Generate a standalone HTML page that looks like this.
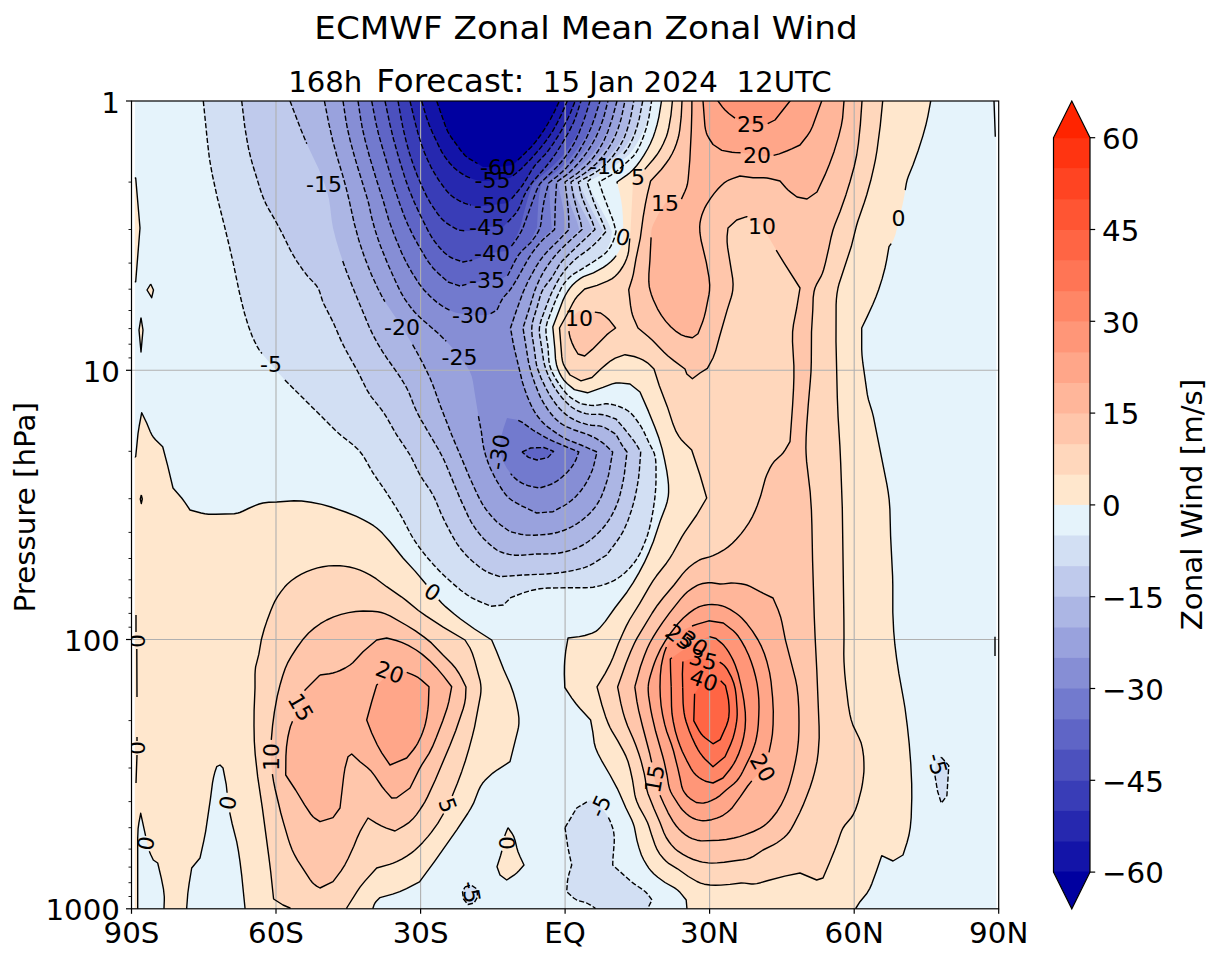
<!DOCTYPE html>
<html lang="en"><head><meta charset="utf-8"><title>ECMWF Zonal Mean Zonal Wind</title>
<style>html,body{margin:0;padding:0;background:#fff}svg{display:block}</style></head>
<body>
<svg width="1218" height="960" viewBox="0 0 1218 960" font-family="'DejaVu Sans','Liberation Sans',sans-serif">
<defs><clipPath id="cp"><rect x="134.8" y="101.0" width="861.8" height="807.8"/></clipPath></defs>
<rect width="1218" height="960" fill="#fff"/>
<g clip-path="url(#cp)">
<rect x="134.8" y="101.0" width="861.8" height="807.8" fill="#e5f3fb"/>
<g stroke="none">
<path d="M203.3 101 L207.4 141.2 L208.9 154.5 L211 167.9 L214.1 183.4 L218 200.5 L224.5 226.2 L230.4 250.6 L233.8 265.9 L239.1 291.1 L243.5 309.6 L246.6 320.4 L249.5 329.3 L252.2 336.3 L256.2 344.7 L259 349.6 L262.5 354.2 L277.7 372.1 L285.5 380.7 L335.3 430.3 L341.1 435.5 L353.3 445 L357.5 448.9 L360 451.7 L362.3 454.7 L364.4 457.9 L373 473 L385.7 491.4 L397 509.1 L401.9 517.3 L411.8 536.1 L414.8 541 L418.2 545.9 L421.8 550.7 L426.8 557 L432 563 L437.1 568.6 L446.5 577.9 L459.2 589 L466.7 594.6 L473.1 598.5 L478.4 601 L491 606.3 L503.4 605 L510.8 597.6 L524.9 592.3 L534.2 589.8 L539.9 588.7 L547.8 588 L571.4 587.7 L585.3 587.8 L593.2 587.2 L598.8 586.1 L605.9 584 L611 582 L615.9 579.5 L620.6 576.3 L626.4 571.4 L631.6 565.9 L635.2 561.5 L638.3 556.5 L641 551.3 L644.2 544 L647 536.7 L649.2 529.3 L651 521.8 L652.8 512.2 L654.3 502.6 L655.2 494.7 L655.8 486.9 L656 480.9 L656.1 467.2 L655.8 461.3 L655.3 457.5 L654.4 453.8 L652.9 450.2 L649.2 443.3 L643.7 431.4 L641 426.5 L634.6 417.5 L632.2 414.6 L629.6 412.1 L626.7 410 L622 407.7 L616.7 405.7 L610.9 404.2 L607 403.8 L605.2 403.8 L597.7 405.1 L594 405.5 L590.3 405.3 L581 403.8 L573 399.1 L570 397 L567.2 394.5 L563.5 390.2 L559 384 L554.8 377.3 L552.1 372.1 L550 366.6 L548.9 360.9 L548 347 L546.2 335.5 L545.9 331.7 L546 328 L546.3 326.1 L547.2 322.3 L548.5 318.5 L554 304.3 L556.8 297.6 L560.7 289.2 L563.5 284.4 L565.8 281.4 L568.3 278.6 L572.5 274.8 L590.9 263.4 L595.7 260 L600.2 256.2 L606 251 L609.5 243.7 L610.2 241.9 L611.1 238.3 L611.9 231.5 L609.3 225.2 L606.9 220.1 L593.8 195.8 L587 182 L601 175 L606.1 172.1 L609.4 169.9 L626.4 157 L629.1 154.4 L632.7 150 L636.9 143.5 L641.5 135 L644.6 127.9 L647.2 120.6 L649.2 113.5 L651.6 101 L651.6 90 L203.3 90Z" fill="#d2dff3"/>
<path d="M565 827.7 L576.7 808 L590 800 L595.9 803.6 L598.7 805.6 L601.3 808 L603.8 810.7 L606 813.6 L608 816.7 L609.6 819.8 L611 823 L613.2 829.8 L614.1 835.5 L614.3 841.3 L614 847.2 L612.9 859.1 L612.7 865 L624.3 875.5 L631.5 881.8 L634.5 884.1 L642.4 889.4 L645.4 891.7 L647.8 894.3 L652 900 L648 908 L648 920 L595 920 L595 908 L590.1 904.8 L586.7 903 L585.1 902.4 L578.3 900.7 L576.7 900 L573.6 898 L566.7 891.7 L567.4 881.9 L568 878 L568.9 874.3 L571.7 865 L568 848 L565.3 829.5Z" fill="#d2dff3"/>
<path d="M941.3 757.2 L948.8 765.6 L946.9 795.7 L941.3 803.2 L937.5 791 L934.7 774 L936 762Z" fill="#d2dff3"/>
<path d="M465 887 L471 885 L477 889 L477.5 897 L474 903 L468 904.5 L463.5 899 L462.5 892Z" fill="#d2dff3"/>
<path d="M241.7 101 L244.7 126.1 L246.9 139.6 L248.7 149.3 L250.5 156.9 L252.6 164.6 L260.8 191.1 L263.5 198.4 L265.8 203.7 L268.4 208.6 L274.1 218.4 L280.4 230 L283.8 236.7 L289.5 248.4 L292.1 253.4 L296.9 261.3 L303.3 270.6 L307.9 276.5 L315.9 284.9 L318 288 L319.5 291.3 L322.3 300.3 L323.7 303.7 L333 322 L341.7 342 L346 350.4 L358 372 L366.9 389.9 L371.1 396.6 L380.7 408.6 L384.1 413.3 L387.1 418.2 L396.7 435 L406.1 448.8 L410 455 L412.6 459.9 L417.4 470.1 L420 475 L423.2 480.1 L429.9 489.9 L433 495 L435.6 500.4 L440.9 513.2 L445.7 523.4 L451.9 535.1 L456.7 543.3 L461.2 549.5 L466.2 555.2 L471.6 560.5 L478.8 566.5 L483.5 569.8 L488.3 572.5 L491.6 573.8 L500 576.7 L523 575 L544.7 574.1 L561.3 572.5 L572.2 570.7 L579.6 569 L585 567.4 L590.2 565.1 L595.2 562.3 L606.7 555 L615.8 542.8 L621.1 535 L624.7 528.3 L628.3 519.5 L631.9 508.6 L634 501.2 L635.4 495.4 L638 481.7 L639.2 471.8 L640.7 452 L636.7 445 L633.6 440.4 L625.5 430.3 L616 419 L606.8 415.7 L603 414.7 L599.2 414.3 L593.3 414.4 L589.4 414.3 L584.1 413.1 L579.1 411.4 L574.4 409 L570 405.8 L566 402 L561 396.6 L556.5 390.5 L551.6 382.3 L548.3 375.5 L545.6 368.4 L544.5 364.7 L543.3 358.9 L541.6 347 L539.7 335.6 L539.3 329.9 L539.6 326.1 L541 320.6 L548.4 300.6 L551.3 293.5 L553.9 288.3 L557.5 281.4 L560.5 276.3 L565 270 L570.1 264.2 L577.1 257.4 L586.3 250.3 L591.7 245.3 L596.6 240 L603.1 231.5 L599.2 223.6 L592.6 211.5 L588.1 202.8 L583.9 194 L578.5 182 L601.3 166 L615.6 157.1 L619.9 153.7 L623.6 149.6 L626.8 145 L629.8 140.1 L632.4 135.1 L634.8 129.8 L637.4 122.5 L639.1 117.2 L642.7 101 L642.7 90 L241.7 90Z" fill="#bfcaec"/>
<path d="M290 101 L297.3 120.3 L305.2 140.2 L308.4 147.3 L318.5 168.4 L324.7 184.3 L327 191.4 L328.9 198.8 L330.1 206.6 L331.7 220.3 L333 228 L335.9 239.5 L339.3 250.8 L344.3 265.8 L350.8 282.5 L368.2 324.5 L373 335 L377.6 343.4 L382.5 351.6 L387.8 359.6 L394.5 368.9 L398.8 375.1 L402.9 381.5 L406.7 388 L409.2 393.3 L414.3 406.3 L417.6 413.4 L421.2 420.1 L438.6 449.7 L443 458 L446.3 465.2 L452.2 479.9 L461.4 501.5 L468.5 516.9 L471.1 521.8 L473 525 L478.7 533 L483.9 539 L490.8 545.5 L493.7 547.8 L496.8 550 L500 551.7 L505.4 553.6 L513 555 L518.9 555.4 L522.8 555.2 L536.7 554 L554.3 553.7 L560 553 L567.3 551.3 L572.7 549.6 L579.7 546.7 L584.6 544.1 L590.8 539.8 L596.5 534.8 L601.8 529.4 L606.5 523.5 L610.7 517 L615.2 508.5 L618 501.6 L620.1 494.4 L622.2 485.3 L624.1 475.8 L627 452 L622 445.2 L616 434.4 L608 429.3 L604.7 427.5 L603 426.8 L599.2 425.9 L591.4 425.2 L587.5 424.6 L579.9 422.3 L574.4 420 L569.5 417.1 L566.4 414.9 L563.5 412.5 L559.5 408.5 L555.8 404 L550.3 396.1 L546.4 389.3 L541.5 378.9 L538.1 370.2 L536.5 364.7 L535.5 358.8 L534 347 L532.1 335.6 L531.7 331.8 L531.7 328 L532.1 324.2 L533 320.5 L537 307.5 L540 296.8 L541.9 291.6 L543.7 288.3 L545.9 285.2 L552 277.5 L558.8 265.7 L562.2 261 L580.5 241.4 L592.2 229.5 L588.8 221.8 L582.3 209.8 L576.2 197.6 L574.1 192.3 L570.9 182 L586.7 174.1 L591.8 171.1 L594.9 168.9 L601 164.1 L605.2 160.1 L609.3 156 L614.3 150.1 L617.7 145.4 L620.8 140.5 L623.6 135.3 L625.9 129.9 L628.6 122.6 L630.2 117.2 L633.8 101 L633.8 90 L290 90Z" fill="#acb6e4"/>
<path d="M324.4 101 L328.8 123.4 L332.3 138.6 L336.8 155.8 L342.7 175.4 L345.8 186.7 L349.6 202.1 L353.8 221.4 L357 233.9 L361 246.9 L365.6 260 L370.6 272.8 L376.2 285.3 L381.6 295.8 L385.5 302.5 L400.7 325.1 L411.6 343 L419.1 356.3 L426.8 371.3 L430 378 L432.2 383.3 L441.4 408.7 L448.6 427 L455.3 443.5 L471.4 481.5 L478.5 496.9 L482 503.4 L485.2 508.2 L488.7 513 L492.6 517.5 L495.3 520.3 L498.1 522.9 L501 525.2 L510 531.7 L522.4 534.5 L526 535 L532 535.3 L540 535 L547.4 534.3 L554.7 533.1 L560 531.7 L565.2 529.8 L572.1 526.6 L578.5 522.8 L583.1 519.3 L587.6 515.4 L591.8 511.2 L595.6 506.6 L598.7 501.7 L601.4 496.5 L604.2 489.2 L607.3 479.9 L609.1 472.6 L612.7 452 L604.5 444.2 L601.4 441.9 L596.4 438.7 L592.9 436.9 L587.5 434.4 L583.8 433 L576.2 430.7 L569.2 427.9 L564.1 425.4 L561 423.5 L556.5 419.8 L552.5 415.5 L547.7 409.4 L544.5 404.5 L540.7 397.8 L537.7 391 L533.8 380.6 L531 371.9 L529.1 364.7 L528 358.8 L523 328 L529.6 307.5 L534.4 291.7 L537.9 283 L543.1 272.9 L549 263.4 L552.2 258.8 L556.7 253 L564.6 244.2 L579.2 229.5 L577.1 221.8 L572.3 209.8 L567.8 197.5 L566.2 192.3 L563.5 182 L578.6 173.2 L583.4 170 L588 166.5 L593.8 161.4 L598 157.4 L601.8 153.1 L605.5 148.5 L608.9 143.8 L611.9 138.8 L614.7 133.6 L617.9 126.4 L619.9 120.9 L621 117.4 L624.9 101 L624.9 90 L324.4 90Z" fill="#99a2dd"/>
<path d="M343 101 L346.4 123.4 L347.9 130.9 L349.7 138.7 L355.3 159.4 L367.3 198.6 L369.1 205.7 L371.2 216 L374.1 226.8 L378.8 241.2 L383.6 253.9 L389.6 268.5 L397.7 286 L401 292.7 L403.8 297.5 L407.9 303.7 L412.5 309.7 L416.3 314 L420.6 318.1 L437.5 332.7 L442.8 337.7 L448.2 343.3 L454.7 350.6 L463.1 361.4 L466.7 366.2 L469.7 371.3 L471.8 376.5 L473 381.9 L474.7 393.1 L478.3 415.2 L481.4 432 L483.2 445.6 L484.9 452.8 L487.7 461.6 L491.3 470.4 L495.8 479.2 L501.7 489.2 L503.9 492.4 L506.2 495.3 L508.8 498 L511.8 500.3 L515 502.2 L523.3 506.7 L536.7 513 L553 511.7 L563.5 506 L566.8 504 L571.4 500.5 L575.6 496.7 L579.5 492.5 L583 488 L586 483.4 L589.5 476.8 L591.7 471.7 L592.9 468.2 L594.4 462.9 L597 452 L581 445 L569 440.4 L565.7 438.8 L560.9 436.1 L551.5 429.7 L545.2 424.8 L541.4 421 L537 415.4 L533.2 409.4 L530 402.8 L526.5 394.3 L523 384 L520.9 376.3 L514.8 350.6 L513.2 343.2 L510.5 328 L516.8 309.4 L523.3 291.7 L528.5 280.3 L535.7 266.9 L539.8 260.2 L544.5 254 L556.2 241 L566.2 229.5 L564.7 217.6 L563.5 210.1 L561.4 199.4 L557.5 182 L571.6 173.1 L580.6 166 L585 162.1 L589 158 L592.8 153.6 L596.4 149 L599.7 144.1 L602.8 139.1 L605.5 133.7 L608 128.3 L610.3 122.7 L612.2 117.4 L617 101 L617 90 L343 90Z" fill="#868ed5"/>
<path d="M358 101 L361.1 121.6 L363.3 132.9 L367.7 150.2 L372.9 168.3 L382.5 198.2 L387.6 216.4 L390.7 225.5 L394.8 236.4 L400.8 251 L404.1 258.2 L408.4 266.5 L412.1 272.8 L416.9 280.5 L420 285 L422.3 288 L426 292.2 L430 296.2 L435.3 301 L439.6 304.3 L444.1 307.2 L449.1 310 L452.5 311.5 L456.2 312.7 L460.1 313.6 L466 314.6 L472 315.2 L476 315.3 L488 315 L497 310 L500.2 303 L502 299.6 L504.1 296.6 L510 290 L513.3 285.3 L520.9 272 L528 258.6 L535 247.4 L538.3 242.9 L541.9 238.6 L551.8 229.5 L549.9 201.9 L549.1 182 L559.8 175.1 L564.3 171.7 L568.6 168 L574.1 162.7 L579.3 157.3 L584.1 151.6 L587.6 147.1 L590.7 142.5 L594.7 136.1 L598.2 129.5 L600.6 124.4 L602 121 L603.8 115.6 L608 101 L608 90 L358 90Z" fill="#727ace"/>
<path d="M517.5 420 L519.2 420.7 L522.3 422.4 L532.8 430 L541.2 435 L546.3 437.9 L555 442 L578.8 452 L575.3 461.2 L574.4 462.9 L572.3 466.2 L569.8 469.4 L565.7 473.8 L561.6 477.5 L557.2 480.9 L554.1 482.8 L550.7 484.5 L547 485.8 L539.4 488 L532.1 486.7 L528.5 485.8 L523.6 483.9 L518.9 481.4 L514.8 478.2 L511.2 474.3 L507 468.4 L504.1 463.3 L502 458 L500.7 452.5 L500.2 448.7 L500 445 L500.6 439.3 L503.5 428.3 L507 418 L515.8 419.5Z" fill="#727ace"/>
<path d="M371.7 101 L375.8 122.4 L378.5 133.9 L381.1 143.3 L392.1 180.4 L396.1 193.2 L401.7 209.3 L405.7 219.8 L409.7 228.6 L416.1 241.1 L424 254.9 L428.2 261.7 L433 268 L438.2 273.3 L448 282 L460 286 L473.7 282.7 L485.1 280.3 L488.8 279.8 L496.1 279.5 L499.7 279 L503 278 L508 275 L514.4 261.1 L517.1 256.1 L520.4 251.6 L528 243.8 L530.2 241 L533 236.1 L537 227.6 L537.9 209.8 L538.6 200 L539.3 194.2 L541.3 183 L552.6 174.8 L558.5 169.9 L562.8 166.1 L566.9 162 L570.6 157.9 L577.4 149.1 L581.6 142.9 L584.6 138 L587.3 133 L590.7 126.2 L594.4 117.4 L600 101 L600 90 L371.7 90Z" fill="#5f65c6"/>
<path d="M522 452 L530.7 448 L543.8 447.5 L553.6 451.3 L548 457.4 L537 460 L528.5 457.4Z" fill="#5f65c6"/>
<path d="M385 101 L389.5 122.3 L392.2 133.9 L396.2 148.9 L401.2 165.8 L405.3 179 L409.3 190.2 L413.6 200.8 L419.2 212.9 L426.9 228.6 L430.6 235.6 L432.7 238.9 L435 242 L441.2 249.5 L445.4 253.6 L450 257 L453.5 258.7 L463 262 L471.4 260.4 L474.8 259.5 L478.2 258.2 L486.8 254.7 L492 253 L497.3 252.1 L508 251 L516 237.2 L517.7 233.6 L519.3 230 L521 224.7 L523.2 215.5 L527.4 199.7 L532.5 184 L541.2 176 L550.8 167.7 L554.8 164 L562.8 155.4 L566.4 150.8 L569.9 146.1 L573 141.3 L575.8 136.4 L580.8 126.2 L584.4 117.4 L590 101 L590 90 L385 90Z" fill="#4c51be"/>
<path d="M398 101 L401.1 118.4 L403 128 L406.2 141.6 L409.4 153.1 L413.6 165.9 L417.7 176.7 L423.3 189.3 L427.7 198.2 L430.6 203.3 L437.2 213.2 L440.9 217.9 L445 222 L449.7 225.2 L458 230 L464.7 230.8 L468 231 L469.9 230.9 L473.7 230.2 L483.2 227.6 L487 227 L493 226.8 L503 227 L513.5 216 L517 211.6 L518.9 208.3 L520.5 204.8 L524.1 195.7 L526.9 190.6 L529.9 185.6 L533.2 181.3 L546.2 166.3 L550.9 160.5 L557.4 151 L565.4 137.9 L570.1 129.6 L574.1 120.9 L576.2 115.6 L581 101 L581 90 L398 90Z" fill="#393db7"/>
<path d="M410 101 L413.6 116.3 L416.5 127.8 L419.2 137.4 L421.7 145 L425.2 154.2 L429.1 163.2 L433.7 172 L437.8 178.8 L443.5 186.9 L447.3 191.6 L451.5 195.8 L454.6 198.1 L459.6 201 L463.1 202.7 L466.7 204 L473.3 205.7 L478.7 206.2 L484.4 205.9 L508 203 L517.5 191.8 L522 186 L525.2 181.1 L531.2 170.9 L534.5 166 L537 163 L546.4 153 L549.9 148.4 L554.3 142.1 L561.4 130.7 L566.9 120.5 L570.2 113.5 L575.2 101 L575.2 90 L410 90Z" fill="#2628af"/>
<path d="M421.7 101 L426.7 118.2 L428.7 123.8 L430.9 129.2 L438.3 145.1 L440.9 150.4 L443.9 155.4 L447.3 160.1 L451.1 164.6 L455.2 168.8 L459.8 172.3 L464.7 175.5 L470 178 L474.9 179.7 L480 180.8 L483.6 181.1 L489.3 180.7 L510 178 L517.2 172.4 L521.4 168.7 L530.6 159.2 L537.2 152 L543.4 144.3 L549.3 136.3 L553.5 129.7 L558.1 121.2 L562.2 112.7 L567.3 101 L567.3 90 L421.7 90Z" fill="#1314a8"/>
<path d="M436.7 101 L442.3 116.7 L445.2 125.4 L446.5 128.7 L448 132 L452.1 138.7 L462.6 152.9 L465.3 155.7 L468.2 158.1 L476.7 163 L483 167 L492.4 167.1 L499.9 166.8 L513 165 L528 150.3 L531.8 146.4 L536.4 140.8 L540.7 135 L544.7 129 L548.5 122.7 L552.9 114.7 L559.4 101 L559.4 90 L436.7 90Z" fill="#0000a0"/>
<path d="M128 460 L135.7 456.7 L138 433.6 L139.2 426 L141.7 412.7 L146.7 423 L150.3 431.8 L152 435.1 L153 436.7 L155.5 439.7 L162.7 446.7 L167.6 465.4 L173 488 L181.7 498 L184.9 502.4 L190 510 L201.1 513 L204.8 513.7 L208.5 514.2 L213.9 514.3 L232.5 513.8 L236.2 513.4 L239.8 512.5 L243.2 511 L248.3 508.5 L255.5 505.4 L259.2 504 L263 503 L266.9 502.4 L276.7 502 L290.2 501 L296 500.8 L301.7 501 L310.9 502.2 L320 504 L329.2 506.4 L338.2 509.4 L349.2 513.3 L356.5 516.3 L366.9 521.6 L373.6 525.7 L376.7 528 L379.6 530.5 L386.2 537.4 L392.4 544.6 L403 558 L416.7 573 L432.7 592 L439.3 600.4 L443 604.3 L447.2 608.2 L454.5 614.2 L465.2 622.4 L476.1 630.1 L491.7 640 L496.7 651.7 L503.8 669.8 L510.3 684.3 L513 691.7 L515.8 701.2 L517.5 708.7 L518.7 716.1 L519 721.7 L518.7 725.4 L517.7 730.8 L510 761.7 L497.4 769.8 L492.8 773.1 L487.4 778 L484.8 780.6 L482.5 783.3 L480.4 786.6 L478.7 790.1 L473.6 803.2 L470.8 808.4 L467.7 813.5 L456.8 829.8 L434.8 861.1 L419.5 881.9 L406.5 888.7 L399.8 891.7 L392.7 894.1 L380 897.6 L376.1 901.5 L375 903 L374.2 904.6 L373 908 L373 920 L245 920 L245 908 L241.2 871.4 L238.4 850.8 L236.3 839.9 L232.1 823.5 L228.9 808.6 L227.8 801.1 L226.9 789.9 L226.4 786.2 L223 768 L220 765 L216.7 766.7 L215 771.7 L213.6 777.2 L212.2 784.7 L210.3 799.8 L205.7 831.1 L203.8 840.8 L200 858 L191.7 868 L189.1 883.8 L187.8 893.5 L186.7 908 L186.7 920 L164 920 L164 908 L164.3 898.6 L164.2 894.8 L163.1 887.4 L160.9 876.2 L157.7 863 L153.3 860 L150 853 L148.7 849.5 L147.3 844.1 L140.7 813.3 L138.6 824.8 L138.1 828.6 L137.8 834.4 L137.7 920 L128 920Z" fill="#ffe7cd"/>
<path d="M661.5 90 L661.5 101 L658.9 116.8 L657.2 124.2 L655.1 131.4 L653.3 136.8 L650.3 143.8 L647.6 149 L643.7 155.7 L639.2 162.4 L635.5 167.1 L632.8 170 L629.9 172.7 L626.8 175.1 L617 182 L619.4 191.7 L621.2 200.5 L622.2 207.8 L622.8 215.7 L623.3 229.3 L623.2 235.1 L622.6 240.4 L621.9 243.8 L621 247 L620.3 248.8 L618.4 252.3 L615 257.2 L611 261.5 L606.5 265.2 L601.7 268.3 L595 272 L591.8 273.4 L585.1 275.9 L582 277.5 L576.3 281.5 L573.7 283.8 L571.2 286.4 L568.9 289.4 L566.9 292.7 L563.4 299.2 L552.8 327 L554.9 349 L555.5 358.9 L556.5 364.7 L557.6 368.3 L559.7 373.4 L562.5 378.2 L564.7 381.1 L567.3 383.7 L574.4 389.6 L587.5 392.8 L603 387.4 L610.4 384.5 L614.1 383.3 L616 383 L619.4 382.9 L630 384 L640 392 L648.5 411.4 L656.3 430.9 L660 441.7 L662.1 448.9 L663.9 456.2 L666.8 471.2 L668.2 480.9 L668.6 486.7 L668.6 490.5 L668.5 494.3 L668 498 L667.2 501.7 L665.5 507.2 L660.6 519.9 L653.4 541.5 L648.3 553.9 L644.3 562.7 L639.9 571.2 L635.1 579.5 L630.1 587.5 L624.5 595.4 L614.8 608 L606.4 620 L604.2 622.8 L599.6 628.1 L597.1 630.4 L595.8 631.4 L592.3 633.1 L588.6 634.4 L584.9 635.5 L581.2 636.3 L568 638 L565.7 651.2 L564.8 658.8 L564.3 670.4 L564.6 683.8 L564.8 687.5 L572.8 699.6 L578.7 707 L590.6 720 L592.8 731.8 L594.2 742.7 L595.6 748 L597.8 753.2 L602.2 761.7 L610 775 L617.2 788.3 L619.6 793.5 L625.8 807.7 L631.7 819.7 L633.1 823.2 L634.3 826.9 L637 840.6 L639 847.9 L641.4 855 L643.8 860 L646.7 864.9 L648.8 868.1 L651.2 871.1 L653.7 873.8 L657.8 877.3 L665 882.5 L674.6 887.9 L677.5 890 L680.2 892.6 L686.2 900 L686.9 908 L686.9 920 L856 920 L856 908 L860 901.7 L867 893.2 L869.7 888.6 L871.9 883.6 L876.3 871.5 L881.7 855.7 L893 861 L903 855 L907.6 840.5 L909 835 L910 829.2 L910.7 823.4 L911.3 815.5 L911.8 799.7 L911.8 791.8 L911.6 781.9 L911 768 L910.3 756.7 L909.2 743.6 L906.3 717.9 L904.1 702.3 L899.6 677.5 L898 668 L895.4 648.6 L894 635 L893.3 623.7 L892.8 612.3 L892.8 585.6 L892.6 576.1 L890.7 538 L890.1 513.2 L889.4 501.8 L888.5 494.1 L886.9 484.4 L873.7 418.3 L872.5 413.1 L868.5 399.9 L867 392.6 L863 364.6 L862 355 L861.6 345.4 L861.7 328 L867.2 316.6 L872.1 306 L875.3 298.7 L878 291.5 L881.6 280.7 L884.6 269.8 L886.2 262.2 L889 246.7 L891.7 243 L893.4 240.1 L895.4 234.8 L902.6 204.6 L904.5 195 L905.9 185.5 L906.7 181.7 L908.5 176.1 L913 165 L918.8 148.7 L923.3 134.3 L926.3 123.5 L927.9 116.1 L930.7 101 L930.7 90Z" fill="#ffe7cd"/>
<path d="M508 827.7 L512.1 833.5 L513.8 836.7 L515.1 840.4 L516.9 848 L518 851.7 L520.1 856.7 L524 865 L519.2 870.5 L516.7 873 L514 875.2 L506.7 880 L500 875 L497 866.7 L501.7 851.7 L502.5 848 L503.6 840.5 L504.5 836.8 L505.7 833.2 L507.2 829.5Z" fill="#ffe7cd"/>
<path d="M128 178 L135.7 178 L140 228 L135.7 281.7 L128 281.7Z" fill="#ffe7cd"/>
<path d="M150.7 284 L153.5 290 L151.7 297.7 L147 290Z" fill="#ffe7cd"/>
<path d="M141 317.7 L143 330 L141 352 L139 330Z" fill="#ffe7cd"/>
<path d="M141.3 495 L142.3 499 L141.3 503.5 L140.3 499Z" fill="#ffe7cd"/>
<path d="M672.4 90 L672.4 101 L670.7 116.7 L669.1 125.9 L668 131.3 L666.4 136.5 L665 140.2 L663.3 143.8 L660.5 149 L658.5 152.4 L655.4 156.8 L647.3 166.5 L633 182 L630.5 231.3 L628.8 249.5 L627.8 255 L626.1 260.1 L624.6 263.4 L622 268 L618.8 272.4 L615.1 276.3 L612.2 278.6 L607.4 281.2 L598.9 284.7 L584.7 289 L579.6 294 L576 298 L573.9 301.1 L567.8 313 L559.5 328 L561.8 356.9 L562.4 360.7 L563.5 364.4 L565.1 367.5 L570 375 L581 380.8 L592 377.5 L601.1 368.7 L606.5 364.1 L610.7 360.8 L615.2 358.2 L625 354.7 L634.2 356.5 L637.7 357.6 L641.1 359.1 L644.4 360.8 L647.5 362.8 L650.2 365.2 L654 369 L659.3 385.8 L667.4 406.9 L672.3 422.2 L675.1 429.6 L677.8 434.8 L681.1 439.4 L685 443.5 L691.7 450 L700 475 L706.7 498 L696.7 515 L685 531.9 L682 536.6 L672.7 553.5 L669.7 558.4 L666.4 563.2 L656.5 575.8 L653.1 580.6 L649.1 587.1 L639.6 603.7 L629.7 619.5 L626.2 626.1 L623 633 L618.4 643.5 L612.9 657.7 L609.8 664.7 L605.2 673.3 L597 686.9 L601.9 705 L605.5 716.4 L608.4 723.9 L610 727.5 L611.8 730.9 L617.8 740.8 L623.4 751.1 L626 756.4 L627.5 760 L629.2 765.3 L630.6 770.8 L632.9 781.8 L634.8 794.7 L636.2 800 L639.5 807.7 L645 817.5 L647.5 822.5 L648.9 826.2 L651.8 835.6 L654.9 844.4 L656.3 847.7 L657.8 851 L659.8 854.1 L662.1 857.1 L664.7 859.9 L667.5 862.5 L670.7 864.7 L677.5 868.8 L686.8 875.4 L693.4 879.6 L698.8 882.4 L702.5 883.8 L708.1 884.8 L711.8 885.2 L715.4 885.3 L720.9 885.1 L730 884.4 L741.1 883 L744.7 883.1 L751.3 884 L753 884 L756.8 883.6 L760.6 882.7 L768.1 880.5 L784.8 876.1 L800 873 L816.7 880 L823 878 L829.2 863.5 L834.5 850.6 L837.3 843.3 L840.8 832.9 L842.2 829.6 L843 828 L845 825 L849.8 819.4 L852 816.5 L853.9 813.3 L855.5 809.8 L856.8 806.2 L858.5 800.6 L861.8 787.4 L863.3 777.7 L864 769.9 L863.9 760.3 L863.1 752.5 L862.1 746.9 L860.5 741.3 L859 737.7 L853 725.4 L851.7 721.7 L850.3 716.2 L848.6 706.9 L846.2 688 L845 676.7 L844.2 665.5 L843.9 656 L844 636.9 L843.9 617.5 L842.2 505.9 L840.7 461.5 L839.8 444.1 L838.1 416.9 L837.4 399.3 L836 343.9 L836.1 305 L836.4 299.3 L837 293.6 L838 288 L838.9 284.3 L851.2 246.8 L856.2 226.8 L857.8 221.2 L864.3 202.5 L866.7 195 L870.8 180.3 L873.8 167.3 L875.4 159.8 L877 150.5 L880.2 126.1 L882.7 101 L882.7 90Z" fill="#ffd7bc"/>
<path d="M255 688 L255 674.5 L255.4 668.8 L256 665 L258 658 L258.8 654.4 L260.6 643.4 L261.7 638 L263.2 632.5 L265.5 625.2 L271.5 608.7 L274.8 601.4 L278.8 594.8 L283.3 588.6 L285.9 585.7 L288.6 583 L291.5 580.5 L294.6 578.2 L301.4 574.2 L306.7 571.7 L310.2 570.3 L315.6 568.5 L319.3 567.5 L323 566.7 L328.6 565.9 L336.2 565.6 L340 565.7 L345.6 566.3 L349.4 567 L354.9 568.4 L358.4 569.6 L363.4 571.6 L371.4 575.8 L376.1 578.7 L386.7 586.7 L403 598 L418.4 610.5 L426 615.9 L443.2 627.1 L465 640 L470 648 L471.6 651.5 L473.6 656.9 L479.7 678.9 L480.7 684.3 L481 689.8 L480.7 693.4 L480.2 697.1 L478.3 706.2 L476.1 719.4 L474.6 726.8 L471 741.4 L465.9 759.2 L463 768 L460 776.5 L452.9 794.2 L448 805 L444.5 811.8 L440.8 818.5 L437.8 823.4 L434.6 828 L427.9 836.6 L420.2 845.2 L416 849.2 L413 851.7 L409.9 854 L405.1 857.2 L400.1 860 L396.7 861.7 L393.2 863.1 L389.6 864.4 L376.7 868 L365.1 880.9 L360.2 886.9 L357 891.6 L346.7 908 L346.7 920 L290 920 L290 908 L283 905 L273.6 899 L270.7 871.8 L268.8 856.3 L262.3 807.6 L257.7 776.9 L255.2 754.4 L254.3 741.2 L254 725.8 L254.1 710.6 L254.9 689.9Z" fill="#ffd7bc"/>
<path d="M682 90 L682 101 L681.2 116.7 L679.8 129.6 L678.9 135 L678 138.5 L676.4 143.8 L674.4 149 L672 154 L669.2 158.9 L665.9 163.5 L661.3 169.5 L650.6 181 L647.4 194.2 L645.4 203.9 L643.1 217.4 L640.3 238.1 L636 258.7 L633.4 273.8 L632 279.3 L628.7 289.7 L630.5 305.4 L631.5 311.2 L632.5 315 L633.7 318.3 L638 328 L648.2 336.5 L652.4 340.3 L664 352.2 L668 356 L674.1 360.9 L685 369 L686.8 374 L692.4 378.7 L700 373 L707.4 368.4 L713 358 L715.6 351.1 L719.5 336.8 L727.2 309.9 L731.2 297.2 L732.2 293.5 L732.8 289.8 L733.1 284.3 L732.7 278.7 L727.7 247.9 L727.1 242 L727.1 236.3 L728 228 L736.7 220 L746.7 216.7 L762 225.7 L778.8 254.4 L800 288 L796.7 308 L793.5 324.4 L792.6 331.9 L792.5 341.8 L793.9 365.7 L793.9 377.6 L793.5 389.4 L792.6 405.2 L790 441.7 L785.2 449.9 L783 453 L780.6 455.6 L774.1 461.6 L771.9 464.6 L770 467.9 L766.7 475 L765.3 478.7 L760.6 496.1 L757.3 505.4 L755.1 510.9 L752.6 516.3 L748.9 522.9 L744.6 529.1 L741.2 533.6 L736.3 539.2 L732.4 543.2 L728.2 546.9 L723.5 550.2 L718.3 553.2 L713 555.7 L709.6 556.9 L702.7 558.7 L699.4 560 L694.8 562.8 L689 567.3 L686.2 569.9 L682.4 574.1 L674.2 584.7 L663.2 597.7 L657.4 605.2 L652.2 613 L640.6 632.1 L636.9 638.4 L634.4 643.3 L630.6 651.7 L625.8 663.8 L617.6 686.9 L620.8 703.2 L623 712.1 L625.1 719.1 L627.6 726 L633 738.2 L635.8 745.2 L638.9 754 L641.1 761.1 L644.3 773.8 L645.3 779.3 L646.5 788.2 L647.9 793.4 L649.8 798.4 L660 822.5 L663.9 832.7 L665.4 835.9 L669.2 842 L671.4 844.9 L673.7 847.5 L678 851.2 L681.2 853.4 L684.5 855.3 L691.5 858.7 L695.1 860.1 L698.8 861.2 L702.4 862.1 L706.2 862.7 L710 863 L713.6 863.1 L718.9 862.8 L724.3 862.3 L734.9 860.7 L742.6 859.8 L746.4 859.1 L750 858 L753.4 856.3 L763 850 L775.1 844 L781.2 839.8 L785.4 836.3 L788 833.5 L789.2 832 L792.4 826.9 L798.8 814.5 L803 805.4 L807.4 794.4 L811.3 783.5 L814.5 772.6 L816.7 763.5 L818 754.5 L818.9 743.5 L819.2 734.1 L819.1 724.6 L818.1 705.5 L816.8 670 L815.1 636.9 L814.3 617.5 L812.6 561.1 L811.9 525.6 L811.4 509.8 L810.2 492.2 L806.6 461.4 L806.1 453.6 L805.9 447.7 L806.1 437.8 L806.7 425.9 L808.3 404.2 L810.3 381.3 L811 371.7 L811.3 361.8 L811.5 332 L812.8 309.7 L813.2 297.6 L814 291.8 L815 288 L816.4 284.7 L820.9 276.7 L822.4 273.3 L823.6 269.8 L825.5 262.6 L828.8 248.1 L831.1 237.2 L832.5 231.8 L834.3 226.3 L840.7 209.8 L846.5 193 L851.1 177.9 L855.1 162.7 L856.7 155 L857.6 149.3 L858.6 141.5 L860 128 L862 101 L862 90Z" fill="#ffc6ab"/>
<path d="M594 312 L600.6 313 L605.1 316.3 L609.2 319.9 L615.6 328 L609.5 332.5 L606.6 334.9 L592.3 349.4 L584.7 356 L578 354 L574.2 347.6 L571.9 342.6 L570.1 337.4 L569 332 L568.9 328.2 L569.7 318.7 L579 311 L592.1 311.8Z" fill="#ffc6ab"/>
<path d="M280 685 L282.7 675.8 L285.2 668.5 L288.4 661.5 L292.4 654.6 L298.9 644.9 L304.8 637.2 L310 631.7 L315.7 626.9 L321.9 622.7 L328.4 619.1 L335.5 616.2 L343 613.9 L350.3 612.3 L359.4 611.2 L366.7 611 L375.9 611.6 L379.5 612.2 L383 613 L388.3 615.1 L406.8 625.5 L416.7 631.7 L425.7 638.2 L431.4 642.9 L435.3 646.9 L443 655 L450.6 662.4 L455.2 667.7 L459.1 673.5 L461.8 678.4 L466 687 L465.5 698.1 L465 701.7 L464.2 705.4 L457.6 725.3 L453 738 L449.3 747.2 L435.4 779.7 L428.3 795.2 L424.9 801.8 L419.8 809.9 L415.3 816.2 L411.4 820.4 L408.5 822.9 L403.6 826.1 L395 831 L386.4 828.1 L381.3 825.9 L376.2 823.1 L368 818 L362.9 826.5 L360 831.7 L357.5 837.1 L353.8 846.2 L348.3 858.2 L344.9 864.8 L340.9 871.1 L333 881.7 L320 888 L316.6 886.1 L313.6 883.8 L312.3 882.5 L310.1 879.6 L297.6 860.3 L294.7 855.2 L292.2 850 L288.9 840.9 L282.8 820.5 L278.9 805.5 L274.3 785.3 L272.4 774.1 L271.2 764.5 L270.7 756.7 L270.8 746.8 L272.2 729.2 L273.8 715.7 L276.4 700.3 L279.5 686.9Z" fill="#ffc6ab"/>
<path d="M692 90 L691.7 116.7 L691 136.6 L689.5 164.1 L688.2 179 L687.4 184.3 L685.8 189.6 L681 200 L665.4 203 L658.3 214.3 L653.3 224.3 L652 227.8 L651.6 229.5 L651.2 232.9 L651 240 L649.9 260.6 L648.9 273.8 L648.7 279.5 L649.1 285.1 L649.7 288.7 L650.7 292.5 L652.7 298.2 L655 303.7 L657.5 308.8 L660.4 313.8 L663.6 318.5 L666.9 322.8 L670.7 326.8 L674.9 330.5 L678 332.8 L681.3 334.8 L683 335.6 L686.7 336.7 L692.4 337.8 L698 333.7 L702.6 322.1 L704.2 316.9 L705.6 311.3 L709 294.4 L709.5 290.6 L709.8 286.8 L709.6 283.1 L708.7 275.5 L706.3 262.3 L701 240 L700.2 234.3 L699.7 228.6 L700 223 L700.7 219.3 L701.7 215.6 L703 212 L704.5 208.4 L707.4 203.1 L711.8 196.6 L716.7 190.3 L720.8 185.9 L723.8 183.2 L727 181 L728.7 180.1 L732.4 178.6 L740 176 L753 177.7 L763.5 177.8 L767 178 L770.7 178.7 L780 181 L785.6 187.5 L788 190 L790.9 192.4 L797 197 L807 199 L817 192 L825.8 173.2 L830.1 162.5 L835.3 147.6 L839.5 133 L841.7 123.8 L842.8 116.3 L844 101 L844 90Z" fill="#ffb69a"/>
<path d="M634.8 686.9 L640.4 666.8 L644.3 655.7 L647.3 648.3 L650.6 641.4 L654.3 635 L659.3 627.2 L664.8 619.3 L669.6 612.9 L680.7 598.9 L684.6 594.5 L687.5 591.8 L693.8 587.3 L699 584.6 L700.8 584 L704.4 583.1 L710 582.6 L713.3 582.9 L720 584 L723.7 583.9 L729.3 583.2 L733 583 L738.9 583.4 L744.8 584.5 L746.7 585 L750.1 586.3 L760 591.7 L773 598 L778.8 611.5 L781.1 618.8 L785 638 L795.1 677.2 L796.3 683 L797.3 688.8 L798.1 696.6 L798.7 704.4 L799 723.8 L798.9 731.5 L798.5 739.2 L798 745 L797 752.8 L795.6 760.5 L793.9 768.2 L791.5 777.8 L789.4 785.5 L787.4 791.2 L784.4 798.3 L781.9 803.5 L779.1 808.5 L775.8 813.3 L772.1 818 L769.4 821 L766.5 823.8 L763.5 826.1 L760.3 828.1 L756.9 829.9 L751.7 832.3 L746.6 834.3 L741.3 836 L734.1 838 L728.3 839.1 L722.5 840 L718.9 840.3 L702.4 840.9 L700.6 840.8 L697.1 840.2 L693.8 839.2 L690.5 837.9 L685.9 835.2 L682.9 832.9 L680.1 830.3 L676.3 826 L674 822.9 L672 819.6 L667.2 811 L662.2 800.4 L658 790 L656 784.4 L654.4 778.8 L653.7 775.2 L652.5 766.2 L650.9 758.5 L647 743.1 L642.4 725.7 L638.3 708.8 L636.9 701.4 L635.1 688.7Z" fill="#ffb69a"/>
<path d="M320 675 L305 690 L302.7 701.3 L301 706.7 L298.4 711.7 L293.3 719.7 L291 724.7 L289.9 728.3 L288.6 733.8 L286.5 746.9 L285.9 756.2 L285.7 775 L295.6 790 L304.6 804.8 L310.7 814 L313 816.7 L314.3 817.8 L320 821.7 L333 817.7 L340 808 L343.8 775.5 L345 768 L348 756.7 L351.7 754 L360 761.7 L367.3 767.5 L371.3 771.3 L374.6 775.7 L381.9 786.5 L385.4 790.9 L391.7 798 L396.7 797.7 L410 788 L416.5 774.6 L420 768 L428.1 755 L430 751.7 L432.6 746.4 L435 740.9 L443.3 719.2 L447 708.6 L448.9 701.4 L451.7 686.7 L442.4 674.6 L434.9 666 L428.1 659.3 L420.8 653.3 L416.2 650 L413 648 L405 643.8 L398.1 641.1 L386.7 638 L376.7 640 L363 651.7 L352.8 662.7 L350 665 L345.2 668 L340.1 670.5 L336.6 671.9 L333 673 L329.4 673.8 L321.9 674.7Z" fill="#ffb69a"/>
<path d="M703 90 L703 101 L704.7 124 L705.5 129.4 L706.4 132.9 L707.8 136.3 L713 144.5 L721.8 150.4 L733.7 152.4 L743.6 153 L756.7 155 L764.2 155.8 L768 155.9 L771.7 155.7 L773.6 155.4 L779.3 153.8 L788.4 150.3 L800 145 L808 134.8 L810 131.7 L812.6 126.3 L821.7 101 L821.7 90Z" fill="#ffa689"/>
<path d="M648.2 686.9 L648.6 683.1 L649.4 679.3 L651.5 671.7 L655.2 661 L657.3 655.8 L659.7 650.8 L663.3 644.2 L668.5 636.1 L675.4 626.9 L680.6 620.9 L684.7 616.7 L690.9 611.7 L695.9 608.4 L699.4 606.7 L704.6 605.2 L710 604.5 L715.8 604.7 L721.5 605.7 L726.8 607.6 L731.7 610.3 L737.9 614.6 L740.7 617 L743.3 619.6 L748.1 625.3 L754.7 634.5 L758.7 641.2 L762.2 648.2 L764.4 653.7 L766.8 661.2 L769.2 670.8 L770.6 678.4 L771.9 689.9 L773 703.3 L773.3 712.9 L773.2 722.5 L772.7 730.2 L772.2 736 L771.2 741.7 L769.2 751.3 L767.6 757 L765.6 762.5 L763 767.7 L761 770.7 L750 783 L740.2 796.9 L732.5 807.4 L730 810 L727.4 812.3 L723.1 815.3 L720 816.9 L716.8 818.2 L713.4 819.3 L708.3 820.3 L704.7 820.7 L701.2 820.6 L697.7 819.9 L695.9 819.4 L692.5 818 L689.4 816.1 L686.4 813.8 L682.5 810 L679.2 805.7 L674.3 798.1 L671.5 793.3 L670 790 L668.9 786.4 L667 775 L663.8 760 L655.6 731.3 L652.1 716.3 L650.6 708.8 L648.9 697.8 L648.3 692.3 L648.1 688.7Z" fill="#ffa689"/>
<path d="M405 672 L410.2 673.6 L413.5 675 L416.7 676.7 L418.4 677.7 L421.5 680.1 L429 686.7 L428.4 704.1 L427 715.6 L425.9 721.3 L425 725 L423.3 730.6 L421.9 734.4 L419.5 739.8 L417.7 743.3 L415.7 746.5 L413.6 749.5 L406.7 758 L390 765 L381.9 753.1 L377.3 745 L371.7 733 L366.7 720 L371.7 701.7 L376.7 685 L381.9 680.3 L390 671.7 L399.5 671.5 L403.2 671.7Z" fill="#ffa689"/>
<path d="M718 90 L718 101 L722.5 107.1 L725 110 L727.5 112.4 L731.6 115.7 L735.7 118.6 L738.5 120.3 L741.7 121.7 L743.5 122.3 L747.3 123.3 L752.7 124.3 L765 125 L775 120 L790 101 L790 90Z" fill="#ff9678"/>
<path d="M660 686.9 L660.2 677.5 L660.8 669.9 L661.9 662.5 L663.6 655.1 L665.3 649.7 L666.8 646.3 L668.7 643 L674 635 L685.4 629 L692 626 L697.5 624.1 L708.8 620.8 L723.3 623 L733.3 630.8 L737.1 634.8 L739.4 637.9 L742.6 643 L746.2 650 L748.6 655 L750.6 660.1 L753 667 L755 674.3 L756.3 679.9 L757.4 685.6 L758.2 691.4 L758.7 697.2 L759 705 L758.8 714.8 L758.1 726.4 L757.2 734.1 L755.6 741.7 L753.3 748.9 L750.4 756 L742.8 771.5 L740 776.5 L736.7 781 L733.9 783.7 L726.2 790 L721.3 794.6 L718.6 796.6 L715.8 798.4 L711.2 800.6 L705.7 802.6 L703.8 803 L701.9 803.1 L696.2 802.5 L690.1 798.6 L687.4 796.2 L685 793.2 L683.9 791.6 L683 790 L681.8 786.8 L680 778 L674 752.7 L671.9 745.7 L666.8 731.8 L665.2 726.2 L663.4 718.7 L661.9 711 L660.9 703.6 L660.3 696.2 L660 688.8Z" fill="#ff9678"/>
<path d="M671.2 686.9 L670.6 672 L670.3 659 L680 652 L689.7 645.9 L696.4 642.2 L708.8 636.5 L716 638.5 L722.8 644.3 L726.4 648.6 L728.6 651.9 L731.5 657 L733.8 661.8 L735.8 666.7 L737.6 671.8 L739.1 677.1 L742.7 693.6 L744.5 705 L745.5 716.3 L745.5 722 L745.1 727.8 L744.3 733.6 L742.7 741.3 L740.5 748.8 L738.4 754.4 L735.9 759.8 L733 765 L729.9 769.5 L723 778 L713 783 L708.1 782 L705 781 L701.9 779.4 L698.9 777.5 L695 774 L692.8 771.3 L690 766.7 L684.8 756.8 L682.3 751.5 L679.4 744.3 L677.5 738.8 L675.3 731.1 L673.9 725.3 L672.5 717.5 L672 713.7 L671.6 708 L671.3 688.8Z" fill="#ff8666"/>
<path d="M682.7 687.5 L682.4 673.9 L682.9 661.5 L687.7 659.9 L691 659 L696.1 658.5 L708.3 658.5 L711.7 659 L716.5 660.6 L721.2 663.1 L724 665.3 L725.1 666.5 L728 670.7 L730.5 675.2 L732 678.4 L734.3 685 L735.5 690.5 L736.5 700 L737.1 709 L737.2 714.4 L737 718 L736.1 725.4 L734 734.4 L732.4 739.7 L731.1 743.2 L725 756.7 L713 766.7 L704.9 759 L702.5 756.2 L700.2 753.1 L698.1 749.8 L695.3 744.6 L692 737.5 L689.2 730.7 L686.2 722 L684.8 716.7 L684.1 712.9 L683.6 709 L683.1 703.2 L682.8 689.5Z" fill="#ff7555"/>
<path d="M694.6 693.8 L693.8 720.8 L698.3 729.2 L701.3 734 L703.8 736.7 L706.8 739.2 L713 743.8 L720.2 739.6 L725.7 727.6 L727.1 724.1 L728.1 720.5 L729 715.1 L729.1 707.5 L728.5 700 L727.5 694.5 L725.4 685.4 L720.2 680.2 L703.5 680.2Z" fill="#ff6544"/>
</g>
</g>
<g stroke="#b0b0b0" stroke-width="1.1" fill="none">
<path d="M276 101.0 V908.8"/>
<path d="M420.6 101.0 V908.8"/>
<path d="M565.1 101.0 V908.8"/>
<path d="M709.6 101.0 V908.8"/>
<path d="M854.2 101.0 V908.8"/>
<path d="M131.5 370.3 H998.7"/>
<path d="M131.5 639.5 H998.7"/>
</g>
<g clip-path="url(#cp)" fill="none" stroke="#000" stroke-width="1.4" stroke-linejoin="round">
<g stroke-dasharray="5.2 2.2">
<path d="M203.3 101 L207.6 143.1 L209.4 158.2 L210.7 165.9 L212.5 175.6 L217.1 196.8 L224.5 226.2 L229.5 246.9 L233.4 263.9 L239.1 291.1 L242.6 305.9 L244.5 313.2 L248.3 325.8 L252.2 336.3 L254.6 341.4 L257.1 346.4 L259 349.6 L261.9 353.5"/>
<path d="M284.9 380 L335.3 430.3 L341.1 435.5 L353.3 445 L357.5 448.9 L360 451.7 L362.3 454.7 L364.4 457.9 L373 473 L385.7 491.4 L396 507.5 L401.9 517.3 L409.9 532.7 L412.8 537.8 L417 544.3 L421.8 550.7 L426.8 557 L433.3 564.4 L439.7 571.3 L445.1 576.6 L453.5 584.1 L460.7 590.2 L466.7 594.6 L471.4 597.6 L478.4 601 L491 606.3 L503.4 605 L510.8 597.6 L523.1 592.9 L532.3 590.2 L539.9 588.7 L547.8 588 L571.4 587.7 L585.3 587.8 L593.2 587.2 L600.6 585.6 L605.9 584 L609.3 582.7 L614.3 580.4 L617.5 578.5 L620.6 576.3 L625 572.7 L630.4 567.3 L634 563 L637.3 558.2 L640.2 553.1 L643.4 545.8 L647 536.7 L649.2 529.3 L651.4 519.9 L653.1 510.3 L654.8 498.7 L655.7 488.8 L656 480.9 L656 465.2 L655.6 459.4 L654.4 453.8 L652.9 450.2 L649.2 443.3 L643.7 431.4 L641 426.5 L636.9 420.5 L633.5 416 L631 413.3 L628.2 411 L625.2 409.1 L620.4 407 L614.8 405.1 L610.9 404.2 L607 403.8 L605.2 403.8 L597.7 405.1 L594 405.5 L590.3 405.3 L581 403.8 L574.6 400.1 L571.5 398.1 L568.6 395.8 L565.9 393.1 L561.2 387.1 L555.8 379 L552.1 372.1 L550 366.6 L548.9 360.9 L548 347 L546.2 335.5 L545.9 329.9 L546.3 326.1 L547.2 322.3 L554 304.3 L556.8 297.6 L560.7 289.2 L562.5 286 L564.6 282.9 L568.3 278.6 L572.5 274.8 L591.6 263 L602.1 255.8 L605 253.6 L606.3 252.3 L608.6 249.6 L610.6 246.6 L612.3 243.3 L614.3 238.3 L616 231.5 L614.4 225.2 L612.9 220.1 L603.6 195.8 L599 182 L610.7 175.3 L617 171 L630.8 158.7 L633.6 155.9 L635.9 152.8 L637.9 149.4 L640.5 144 L643.4 136.8 L645.8 129.6 L647.3 124.2 L649 116.8 L651.6 101"/>
<path d="M241.7 101 L244.7 126.1 L246.9 139.6 L248.7 149.3 L250.5 156.9 L252.6 164.6 L260.8 191.1 L263.5 198.4 L265.8 203.7 L268.4 208.6 L274.1 218.4 L280.4 230 L283.8 236.7 L289.5 248.4 L292.1 253.4 L296.9 261.3 L303.3 270.6 L307.9 276.5 L315.9 284.9 L318 288 L319.5 291.3 L322.3 300.3 L323.7 303.7 L333 322 L341.7 342 L346 350.4 L358 372 L366.9 389.9 L371.1 396.6 L380.7 408.6 L384.1 413.3 L387.1 418.2 L396.7 435 L406.1 448.8 L410 455 L412.6 459.9 L417.4 470.1 L420 475 L423.2 480.1 L429.9 489.9 L433 495 L435.6 500.4 L440.9 513.2 L445.7 523.4 L451.9 535.1 L456.7 543.3 L461.2 549.5 L466.2 555.2 L471.6 560.5 L478.8 566.5 L483.5 569.8 L488.3 572.5 L491.6 573.8 L500 576.7 L523 575 L544.7 574.1 L555.8 573.2 L563.1 572.3 L574.1 570.3 L581.4 568.5 L585 567.4 L588.5 566 L593.6 563.3 L606.7 555 L616.9 541.3 L620.1 536.6 L623.9 530 L627.7 521.3 L631.4 510.5 L633.5 503.1 L635 497.3 L637 487.6 L638.6 477.8 L639.4 469.9 L640.7 452 L637.5 446.4 L634.6 441.9 L631.3 437.5 L624.4 428.8 L616 419 L606.8 415.7 L603 414.7 L599.2 414.3 L593.3 414.4 L589.4 414.3 L585.8 413.6 L580.7 412 L575.9 409.9 L571.4 407 L567.3 403.3 L562.2 398 L557.6 392 L553.4 385.6 L549 377.2 L546.2 370.2 L544.5 364.7 L543.6 360.8 L541.6 347 L539.7 335.6 L539.3 331.8 L539.4 328 L540 324.3 L541.6 318.8 L547.7 302.4 L551.3 293.5 L556.6 283.1 L560.5 276.3 L565 270 L567.5 267 L571.7 262.7 L577.4 257.5 L587.6 250.1 L593.3 245.3 L598.7 240 L606 231.5 L603 223.6 L597.7 211.5 L594.2 202.8 L590.4 192.3 L587 182 L590.8 178.9"/>
<path d="M623.7 153.8 L626.1 150.8 L629.3 145.7 L632.8 138.5 L634.9 133.3 L636.7 127.9 L639.2 118.9 L642.7 101"/>
<path d="M290 101 L300.8 129.3 L306.8 143.8"/>
<path d="M342.7 261.1 L347.1 273.2 L355.3 293.6 L368.9 326.3 L373 335 L377.6 343.4 L382.5 351.6 L387.8 359.6 L394.5 368.9 L398.8 375.1 L402.9 381.5 L406.7 388 L409.2 393.3 L414.3 406.3 L417.6 413.4 L421.2 420.1 L438.6 449.7 L443.9 459.8 L447 467 L459.8 497.9 L468.5 516.9 L471.1 521.8 L473 525 L476.3 529.9 L480 534.5 L483.9 539 L488.1 543 L492.3 546.7 L496.8 550 L500 551.7 L503.6 553 L509.2 554.4 L514.9 555.2 L520.8 555.3 L536.7 554 L550.4 553.9 L558.1 553.3 L563.7 552.2 L571 550.2 L578 547.5 L583 545 L587.7 542 L592.3 538.6 L596.5 534.8 L601.8 529.4 L605.4 525 L608.7 520.3 L611.7 515.4 L614.4 510.2 L616.7 505 L618.6 499.8 L620.1 494.4 L621.9 487.2 L623.4 479.7 L624.4 473.8 L627 452 L622 445.2 L616 434.4 L608 429.3 L604.7 427.5 L603 426.8 L599.2 425.9 L591.4 425.2 L587.5 424.6 L579.9 422.3 L574.4 420 L569.5 417.1 L566.4 414.9 L563.5 412.5 L559.5 408.5 L555.8 404 L550.3 396.1 L545.5 387.5 L540.7 377.2 L537.5 368.4 L536.5 364.7 L535.8 360.8 L534 347 L532.1 335.6 L531.7 329.9 L531.9 326.1 L532.5 322.4 L533.5 318.6 L537 307.5 L540 296.8 L541.9 291.6 L543.7 288.3 L545.9 285.2 L552 277.5 L558.8 265.7 L562.1 261.1 L564.6 258.5 L582.3 241.4 L595 229.5 L592.3 221.8 L587 209.8 L582.1 197.6 L580.6 192.3 L578.4 182 L592.4 174.4 L597.4 171.2 L600.5 168.8 L605 164.8 L609.1 160.5 L613 156 L617.3 150.1 L620.3 145.4 L622.9 140.5 L624.5 137 L626.5 131.7 L628.8 124.4 L630.7 117.2 L633.8 101"/>
<path d="M324.4 101 L328.8 123.4 L332.7 140.6 L336.8 155.8 L342.7 175.4 L345.8 186.7 L349.1 200.1 L354.2 223.2 L358.6 239.4 L361 246.9 L364.2 256.3 L367.7 265.5 L371.4 274.6 L378 288.8 L381.6 295.8 L384.9 301.7"/>
<path d="M412.6 344.7 L417.3 353 L422.6 362.9 L426.8 371.3 L430 378 L433.6 386.9 L440.7 406.8 L451.5 434.4 L469.8 477.9 L477.7 495.2 L482 503.4 L486.3 509.9 L491.3 516 L496.7 521.7 L501 525.2 L510 531.7 L520.6 534.2 L526 535 L534 535.3 L545.5 534.5 L552.9 533.5 L558.2 532.2 L563.5 530.5 L570.4 527.5 L576.9 523.8 L581.6 520.5 L587.6 515.4 L591.8 511.2 L595.6 506.6 L598.7 501.7 L601.4 496.5 L604.2 489.2 L607.3 479.9 L608.7 474.4 L612.7 452 L604.5 444.2 L601.4 441.9 L596.4 438.7 L592.9 436.9 L587.5 434.4 L574.4 430 L567.5 427.1 L562.5 424.5 L559.5 422.3 L555.1 418.4 L551.2 414 L547.7 409.4 L543.5 402.8 L540.7 397.8 L539.2 394.4 L535 384 L531.5 373.6 L529.6 366.6 L528.3 360.8 L523 328 L529.6 307.5 L534.4 291.7 L536.4 286.5 L538.7 281.3 L541.2 276.2 L544 271.2 L547 266.4 L550.3 261.8 L553.8 257.3 L558.7 251.6 L565.2 245.1 L582 229.5 L580.6 221.9 L577 209.8 L573.8 197.5 L572.7 192.3 L571 182 L584.3 173.5 L587.5 171.2 L592 167.4 L596.4 163.4 L600.5 159 L604.1 154.6 L607.4 150 L611.3 143.7 L613.9 138.8 L616.2 133.5 L618.2 128.2 L620 122.7 L621.5 117.4 L624.9 101"/>
<path d="M343 101 L345.8 119.7 L347.5 129 L350.2 140.6 L353.8 154 L356.9 164.7 L367.3 198.6 L368.8 204 L371.7 217.8 L375.2 230.4 L378.1 239.3 L380.7 246.6 L388.1 264.8 L396.9 284.3 L401 292.7 L404.8 299.1 L410.2 306.7 L415 312.5 L420.6 318.1 L437.5 332.7 L446.2 341.2"/>
<path d="M478.4 416.1 L481.4 432 L482.9 443.7 L484 449.3 L485.4 454.6 L487.7 461.6 L489.7 466.8 L492.2 472.2 L495.8 479.2 L500.7 487.5 L503.9 492.4 L506.2 495.3 L508.8 498 L511.8 500.3 L521.6 505.9 L536.7 513 L553 511.7 L563.5 506 L566.8 504 L571.4 500.5 L575.6 496.7 L580.7 491 L584 486.5 L586.9 481.8 L590.3 475.1 L592.4 470 L593.5 466.5 L597 452 L581 445 L567.3 439.6 L562.5 437 L557.8 434.1 L548.3 427.4 L543.8 423.5 L541.4 421 L538 416.8 L535 412.5 L533.2 409.4 L530.7 404.4 L527.1 396 L524.7 389.2 L522.4 382.1 L514.8 350.6 L513.2 343.2 L510.5 328 L516.8 309.4 L523.3 291.7 L528.5 280.3 L535.9 266.9 L540.2 260.2 L544.9 254.2 L548.7 250.1 L558 241 L569 229.5 L568.7 217.6 L568.2 209.8 L567.2 199.9 L565 182 L577.5 173.2 L584.9 166.7 L589.1 162.5 L591.7 159.5 L595.2 155.1 L598.4 150.5 L601.2 145.7 L603.9 140.8 L607.7 131.9 L612.1 119.1 L617 101"/>
<path d="M358 101 L360.8 119.7 L362.5 129 L365.2 140.6 L369.8 157.6 L376.2 179 L383 200 L388.8 220 L394.1 234.6 L401.6 252.8 L406.7 263.3 L412.1 272.8 L418.9 283.5 L423.5 289.4 L430 296.2 L436.7 302.1 L442.5 306.2 L445.7 308.2 L449.9 310.4"/>
<path d="M490.6 313.6 L497 310 L500.2 303 L502 299.6 L504.1 296.6 L508.9 291.4 L512.2 286.9 L516.2 280.4 L528.4 258.6 L532.7 252.1 L536.2 247.4 L539.9 242.9 L543.8 238.8 L554.6 229.5 L555.4 201.9 L556.6 182 L564.5 176.4 L567.5 174 L570.4 171.4 L574.6 167.3 L578.5 163 L583.4 157 L586.8 152.3 L590 147.5 L593 142.5 L595.8 137.3 L598.3 131.9 L600.6 126.4 L603.7 117.4 L608 101"/>
<path d="M518.3 420.3 L522.3 422.4 L532.8 430 L541.2 435 L546.3 437.9 L555 442 L578.8 452 L576.1 459.4 L574.4 462.9 L571.1 467.8 L567.1 472.4 L561.6 477.5 L557.2 480.9 L552.5 483.7 L547 485.8 L539.4 488 L532.1 486.7 L528.5 485.8 L525.2 484.6 L522 483.1 L517.5 480.4 L513.5 476.9 L510.6 473.6"/>
<path d="M371.7 101 L375.8 122.4 L378.5 133.9 L381.1 143.3 L393.7 185.9 L399.8 203.9 L404.3 216.3 L408 225 L413.2 235.8 L419 246.3 L425 256.6 L428.2 261.7 L433 268 L438.2 273.3 L448 282 L460 286 L466.4 284.4"/>
<path d="M507.2 275.5 L508 275 L514.9 261.1 L516.8 257.7 L518.9 254.5 L522.5 250.2 L528.1 245.1 L530.8 242.4 L535.5 236.2 L538.5 231.2 L540 227.6 L540.5 225.9 L541.1 222.5 L542 213.7 L543.9 201.9 L545.6 194.2 L548.7 183 L557.6 176 L562 172 L566.2 167.9 L572.6 160.5 L576 155.9 L579.1 151.1 L584.9 141 L587.5 135.6 L590.8 128.3 L594.9 117.3 L600 101"/>
<path d="M522 452 L530.7 448 L543.8 447.5 L553.6 451.3 L548 457.4 L537 460 L528.5 457.4 L522 452"/>
<path d="M385 101 L389.9 124.3 L393.6 139.5 L398.9 158.3 L405.3 179 L409.3 190.2 L414.4 202.5 L419.2 212.9 L428.7 232.1 L432.7 238.9 L438.6 246.6 L443.9 252.3 L448.4 256 L450 257 L453.5 258.7 L463 262 L472.2 260.2"/>
<path d="M511.4 246.2 L516 239.9 L519.2 235.1 L521.1 231.7 L522.8 228.3 L536.4 190.8 L538.8 185.6 L539.8 184 L542.2 181.2 L555.8 168.1 L560.9 162.5 L564.6 157.8 L568.1 152.9 L571.4 147.9 L574.4 142.8 L578.6 133.8 L583 122.7 L585.5 115.5 L590 101"/>
<path d="M398 101 L401.1 118.4 L403 128 L406.2 141.6 L409.4 153.1 L413 164.1 L417 174.9 L422.4 187.4 L426.7 196.4 L430.6 203.3 L437.2 213.2 L440.9 217.9 L445 222 L449.7 225.2 L458 230 L466.3 231"/>
<path d="M507.6 222.2 L513.5 216 L515.9 213.1 L518 210 L519.8 206.6 L524.1 195.7 L526.9 190.6 L529.9 185.6 L533.2 181.3 L545 167.7 L549.7 162 L556.4 152.6 L563.5 141.2 L569.2 131.3 L573.4 122.7 L576.2 115.6 L581 101"/>
<path d="M410 101 L415 122 L418.1 133.6 L421 143.1 L424.4 152.4 L427.5 159.7 L430.9 166.8 L434.7 173.7 L438.9 180.4 L444.7 188.5 L448.6 193.1 L451.5 195.8 L454.6 198.1 L459.6 201 L464.9 203.4 L470.8 205.2"/>
<path d="M511.6 198.8 L517.5 191.8 L522 186 L525.2 181.1 L531.2 170.9 L534.5 166 L537 163 L545.1 154.5 L547.6 151.5 L551 146.9 L555.3 140.5 L561.4 130.7 L566.9 120.5 L570.2 113.5 L575.2 101"/>
<path d="M421.7 101 L426.1 116.3 L429.4 125.6 L432.5 132.7 L439.2 146.9 L441.9 152.1 L443.9 155.4 L447.3 160.1 L449.8 163.2 L453.8 167.4 L456.7 170 L461.4 173.4 L464.7 175.5 L468.2 177.2 L471.6 178.6"/>
<path d="M512.9 175.7 L517.2 172.4 L521.4 168.7 L530.6 159.2 L538.4 150.5 L543.4 144.3 L547 139.6 L552.5 131.4 L557.2 122.9 L561.5 114.4 L567.3 101"/>
<path d="M436.7 101 L445.8 127.1 L448 132 L451 137 L461.4 151.3 L465.3 155.7 L468.2 158.1 L477.5 163.5"/>
<path d="M517.9 160.1 L531.8 146.4 L536.4 140.8 L540.7 135 L545.7 127.4 L550.3 119.5 L554.6 111.3 L559.4 101"/>
<path d="M565 827.7 L576.7 808 L587 801.8"/>
<path d="M608.4 817.5 L610.3 821.4 L612.7 828 L613.6 831.7 L614.1 835.5 L614.3 839.4 L614.2 843.3 L612.9 859.1 L612.7 865 L624.3 875.5 L631.5 881.8 L634.5 884.1 L642.4 889.4 L645.4 891.7 L647.8 894.3 L652 900 L648 908 L648 920 L595 920 L595 908 L590.1 904.8 L586.7 903 L585.1 902.4 L578.3 900.7 L576.7 900 L573.6 898 L566.7 891.7 L567.4 881.9 L568 878 L568.9 874.3 L571.7 865 L568 848 L565 827.7"/>
<path d="M941.3 757.2 L948.8 765.6 L946.9 795.7 L941.3 803.2 L937.5 791 L934.7 774 L934.9 772.6"/>
<path d="M940.8 757.7 L941.3 757.2"/>
<path d="M465 887 L471 885 L477 889 L477.5 897 L474 903 L468 904.5 L463.5 899 L462.5 892 L465 887"/>
</g>
<path d="M128 460 L135.7 456.7 L138 433.6 L139.2 426 L141.7 412.7 L146.7 423 L150.3 431.8 L152 435.1 L153 436.7 L155.5 439.7 L162.7 446.7 L167.6 465.4 L173 488 L181.7 498 L184.9 502.4 L190 510 L201.1 513 L204.8 513.7 L208.5 514.2 L215.7 514.3 L234.3 513.7 L238 513 L239.8 512.5 L243.2 511 L248.3 508.5 L255.5 505.4 L259.2 504 L263 503 L268.8 502.3 L276.7 502 L294 500.8 L301.7 501 L310.9 502.2 L321.8 504.4 L331 507 L345.5 512 L356.5 516.3 L363.5 519.8 L368.6 522.6 L373.6 525.7 L376.7 528 L379.6 530.5 L382.3 533.1 L390 541.7 L403 558 L415.5 571.6 L426.3 584.5"/>
<path d="M438.8 599.7 L441.7 603 L445.8 606.9 L454.5 614.2 L460.5 619 L474.5 629 L491.7 640 L496.7 651.7 L503.8 669.8 L510.3 684.3 L513.6 693.6 L516.3 703.1 L518.2 712.4 L518.9 718 L518.9 723.5 L518.5 727.2 L517.7 730.8 L510 761.7 L497.4 769.8 L492.8 773.1 L487.4 778 L484.8 780.6 L482.5 783.3 L480.4 786.6 L478.7 790.1 L473.6 803.2 L470.8 808.4 L467.7 813.5 L456.8 829.8 L434.8 861.1 L419.5 881.9 L406.5 888.7 L399.8 891.7 L392.7 894.1 L380 897.6 L376.1 901.5 L375 903 L374.2 904.6 L373 908 L373 920 L245 920 L245 908 L241.7 875.3 L240 861.7 L238.4 850.8 L236.7 841.7 L232.1 823.5 L229.7 812.4"/>
<path d="M227.1 792.7 L226.2 784.3 L223 768 L220 765 L216.7 766.7 L215 771.7 L213.6 777.2 L212.5 782.8 L210.3 799.8 L205.7 831.1 L203.8 840.8 L200 858 L191.7 868 L189.1 883.8 L187.8 893.5 L186.7 908 L186.7 920 L164 920 L164 908 L164.3 900.5 L164.3 896.7 L163.5 889.2 L161.3 878.1 L157.7 863 L153.3 860 L150.8 854.8 L149.3 851.3"/>
<path d="M145.6 835.8 L140.7 813.3 L138.9 822.9 L138.1 828.6 L137.7 838.3 L137.7 920 L128 920 L128 751.3"/>
<path d="M128 745 L128 644.1"/>
<path d="M128 637.8 L128 460"/>
<path d="M661.5 90 L661.5 101 L658.9 116.8 L657.2 124.2 L655.1 131.4 L653.3 136.8 L650.3 143.8 L647.6 149 L643.7 155.7 L640.4 160.7 L636.8 165.5 L632.8 170 L629.9 172.7 L626.8 175.1 L617 182 L617.4 183.6"/>
<path d="M616.2 255.6 L613.7 258.7 L611 261.5 L606.5 265.2 L603.4 267.3 L598.4 270.2 L593.4 272.8 L583.5 276.7 L580.5 278.4 L576.3 281.5 L572.5 285 L570.1 287.9 L567.9 291 L565 296 L562.7 300.9 L552.8 327 L554.9 349 L555.5 358.9 L556.5 364.7 L557.6 368.3 L559.7 373.4 L561.5 376.7 L563.5 379.7 L564.7 381.1 L567.3 383.7 L574.4 389.6 L587.5 392.8 L603 387.4 L612.2 383.9 L616 383 L619.4 382.9 L630 384 L640 392 L648.5 411.4 L655 427.4 L658.9 438.1 L662.1 448.9 L664.6 459.9 L666.8 471.2 L667.9 478.9 L668.5 484.7 L668.6 488.6 L668.6 492.4 L668.3 496.1 L667.2 501.7 L665.5 507.2 L660.6 519.9 L653.4 541.5 L649.1 552.1 L644.3 562.7 L638.9 572.9 L633.2 582.7 L626.9 592.2 L614.8 608 L605.3 621.4 L599.6 628.1 L597.1 630.4 L595.8 631.4 L592.3 633.1 L584.9 635.5 L579.3 636.6 L568 638 L565.7 651.2 L564.7 660.7 L564.4 666.5 L564.3 674.2 L564.8 687.5 L571.8 698.1 L576.2 704 L580 708.5 L590.6 720 L592.8 731.8 L594.2 742.7 L595.6 748 L597.8 753.2 L602.2 761.7 L610 775 L617.2 788.3 L619.6 793.5 L625.8 807.7 L631.7 819.7 L633.1 823.2 L634.3 826.9 L637 840.6 L639 847.9 L641.4 855 L643.8 860 L646.7 864.9 L648.8 868.1 L651.2 871.1 L653.7 873.8 L657.8 877.3 L665 882.5 L674.6 887.9 L677.5 890 L680.2 892.6 L686.2 900 L686.9 908 L686.9 920 L856 920 L856 908 L860 901.7 L867 893.2 L869.7 888.6 L871.9 883.6 L876.3 871.5 L881.7 855.7 L893 861 L903 855 L907.1 842.3 L909 835 L910.3 827.3 L911.2 817.5 L911.8 797.7 L911.7 783.9 L910.8 764.2 L909.2 743.6 L907.3 725.8 L905 708 L903.4 698.5 L898.9 673.7 L896.6 658.3 L894.9 644.7 L893.7 631.2 L892.8 612.3 L892.8 585.6 L892.6 576.1 L890.6 536.1 L889.9 509.4 L889.2 499.9 L888.2 492.1 L886.9 484.4 L873.4 416.7 L872 411.2 L868.5 399.9 L867.3 394.4 L862.8 362.7 L862 355 L861.7 349.2 L861.7 328 L867.2 316.6 L872.9 304.2 L876 296.8 L878.6 289.7 L882.1 278.9 L885 268 L886.6 260.3 L889 246.7 L891.2 243.6"/>
<path d="M905.2 190.2 L906.3 183.6 L907.2 179.8 L908.5 176.1 L913 165 L918.2 150.5 L922.8 136.1 L925.8 125.3 L927.9 116.1 L930.7 101 L930.7 90 L661.5 90"/>
<path d="M508 827.7 L512.1 833.5 L513.8 836.7 L515.1 840.4 L516.9 848 L518 851.7 L520.1 856.7 L524 865 L519.2 870.5 L516.7 873 L514 875.2 L506.7 880 L500 875 L497 866.7 L500.6 855.5 L501.9 850.8"/>
<path d="M504.7 835.9 L505.7 833.2 L508 827.7"/>
<path d="M128 178 L135.7 178 L140 228 L135.7 281.7 L128 281.7 L128 178"/>
<path d="M150.7 284 L153.5 290 L151.7 297.7 L147 290 L150.7 284"/>
<path d="M141 317.7 L143 330 L141 352 L139 330 L141 317.7"/>
<path d="M141.3 495 L142.3 499 L141.3 503.5 L140.3 499 L141.3 495"/>
<path d="M672.4 90 L672.4 101 L671 114.8 L668.8 127.7 L667.5 133 L666.4 136.5 L663.3 143.8 L661.5 147.3 L658.5 152.4 L656.5 155.3 L653.2 159.5 L644.7 169.4"/>
<path d="M629.8 238.5 L628.6 251.3 L627.8 255 L626.7 258.4 L624.6 263.4 L622.9 266.5 L619.9 271 L617.6 273.8 L615.1 276.3 L612.2 278.6 L607.4 281.2 L597.1 285.3 L584.7 289 L577.1 296.6 L574.9 299.5 L573 302.8 L567.8 313 L559.5 328 L561.8 356.9 L562.4 360.7 L562.9 362.6 L563.5 364.4 L565.1 367.5 L570 375 L581 380.8 L592 377.5 L601.1 368.7 L606.5 364.1 L610.7 360.8 L615.2 358.2 L625 354.7 L634.2 356.5 L639.4 358.3 L642.8 359.9 L646 361.8 L647.5 362.8 L650.2 365.2 L654 369 L659.3 385.8 L667.4 406.9 L673 424.1 L676 431.4 L678.9 436.4 L681.1 439.4 L685 443.5 L691.7 450 L700 475 L706.7 498 L696.7 515 L685 531.9 L682 536.6 L672.7 553.5 L669.7 558.4 L666.4 563.2 L656.5 575.8 L653.1 580.6 L649.1 587.1 L639.6 603.7 L629.7 619.5 L626.2 626.1 L623 633 L618.4 643.5 L612.9 657.7 L609.8 664.7 L605.2 673.3 L597 686.9 L601.9 705 L605.5 716.4 L608.4 723.9 L610 727.5 L611.8 730.9 L617.8 740.8 L623.4 751.1 L626 756.4 L628.1 761.8 L630.1 769 L632.5 780 L634.8 794.7 L635.7 798.3 L636.8 801.5 L639.5 807.7 L645 817.5 L647.5 822.5 L648.9 826.2 L651.8 835.6 L654.9 844.4 L657 849.4 L659.8 854.1 L663.4 858.5 L666.1 861.3 L669 863.7 L677.5 868.8 L688.4 876.5 L697 881.5 L700.6 883.1 L704.3 884.2 L710 885 L715.4 885.3 L720.9 885.1 L730 884.4 L741.1 883 L744.7 883.1 L751.3 884 L753 884 L756.8 883.6 L760.6 882.7 L768.1 880.5 L784.8 876.1 L800 873 L816.7 880 L823 878 L829.2 863.5 L834.5 850.6 L837.3 843.3 L840.8 832.9 L842.2 829.6 L843 828 L845 825 L851 818 L853 815 L855.5 809.8 L858 802.5 L861.4 789.3 L862.5 783.5 L863.3 777.7 L863.9 771.9 L864 768 L863.9 762.2 L863.6 756.4 L862.5 748.7 L861.2 743.1 L859 737.7 L853 725.4 L851.2 719.9 L849.9 714.4 L848.3 705 L845.8 684.2 L844.7 673 L844 661.7 L843.8 654.1 L844 636.9 L843.9 619.4 L842.3 507.9 L840.7 463.4 L839.9 446.1 L838.1 416.9 L837.3 397.3 L836 341.9 L836.1 305 L836.4 299.3 L837 293.6 L838 288 L838.9 284.3 L851.2 246.8 L856.2 226.8 L857.8 221.2 L864.3 202.5 L866.7 195 L870.8 180.3 L873.8 167.3 L875.4 159.8 L877 150.5 L880.2 126.1 L882.7 101 L882.7 90 L672.4 90"/>
<path d="M255 688 L255 674.5 L255.2 670.7 L255.6 666.9 L258.8 654.4 L261.3 639.8 L264.3 628.8 L266.7 621.6 L270.8 610.5 L273.1 605 L274.8 601.4 L277.7 596.4 L281 591.6 L284.6 587.1 L287.2 584.3 L291.5 580.5 L296.3 577.1 L301.4 574.2 L306.7 571.7 L312 569.6 L317.5 567.9 L323 566.7 L328.6 565.9 L334.3 565.6 L340 565.7 L343.8 566.1 L349.4 567 L354.9 568.4 L360.1 570.2 L365.1 572.4 L369.9 574.9 L376.1 578.7 L386.7 586.7 L401.4 596.8 L406.1 600.4 L418.4 610.5 L426 615.9 L443.2 627.1 L465 640 L470 648 L472.3 653.2 L474.7 660.6 L480.1 680.7 L480.7 684.3 L481 688 L480.9 691.6 L480.5 695.3 L474.6 726.8 L472.4 735.9 L469 748.6 L465.3 761 L461.8 771.4 L457.4 783.3 L452.2 796"/>
<path d="M443.6 813.5 L437.8 823.4 L431.3 832.4 L427.9 836.6 L422.8 842.4 L418.8 846.6 L414.5 850.5 L411.5 852.9 L406.8 856.1 L401.8 859.1 L396.7 861.7 L393.2 863.1 L389.6 864.4 L376.7 868 L365.1 880.9 L360.2 886.9 L357 891.6 L346.7 908 L346.7 920 L290 920 L290 908 L283 905 L273.6 899 L270.7 871.8 L268.8 856.3 L262.3 807.6 L257.7 776.9 L255.2 754.4 L254.3 741.2 L254 725.8 L254.1 710.6 L255 688"/>
<path d="M682 90 L682 101 L681.2 116.7 L679.8 129.6 L678.9 135 L678 138.5 L676.4 143.8 L674.4 149 L672 154 L669.2 158.9 L665.9 163.5 L661.3 169.5 L650.6 181 L647.4 194.2 L645.4 203.9 L643.1 217.4 L640.3 238.1 L636 258.7 L633.4 273.8 L632 279.3 L628.7 289.7 L630.5 305.4 L631.5 311.2 L632.5 315 L633.7 318.3 L638 328 L648.2 336.5 L652.4 340.3 L664 352.2 L668 356 L674.1 360.9 L685 369 L686.8 374 L692.4 378.7 L700 373 L707.4 368.4 L713 358 L715.6 351.1 L719.5 336.8 L727.2 309.9 L731.2 297.2 L732.2 293.5 L732.8 289.8 L733.1 284.3 L732.7 278.7 L727.7 247.9 L727.1 242 L727.1 236.3 L728 228 L736.7 220 L746.7 216.7 L747.3 217.1"/>
<path d="M776.2 250.2 L784 262.8 L800 288 L796.7 308 L793.5 324.4 L792.6 331.9 L792.5 341.8 L793.9 365.7 L793.9 377.6 L793.5 389.4 L792.6 405.2 L790 441.7 L785.2 449.9 L783 453 L780.6 455.6 L774.1 461.6 L771.9 464.6 L770 467.9 L766.7 475 L765.3 478.7 L760.6 496.1 L757.3 505.4 L755.1 510.9 L752.6 516.3 L748.9 522.9 L744.6 529.1 L741.2 533.6 L736.3 539.2 L732.4 543.2 L728.2 546.9 L723.5 550.2 L718.3 553.2 L713 555.7 L709.6 556.9 L702.7 558.7 L699.4 560 L694.8 562.8 L689 567.3 L686.2 569.9 L682.4 574.1 L674.2 584.7 L663.2 597.7 L657.4 605.2 L652.2 613 L640.6 632.1 L636.9 638.4 L634.4 643.3 L630.6 651.7 L625.8 663.8 L617.6 686.9 L620.8 703.2 L623 712.1 L625.1 719.1 L627.6 726 L633 738.2 L635.8 745.2 L638.9 754 L641.1 761.1 L644.3 773.8 L645.3 779.3 L646.5 788.2 L647.9 793.4 L653.9 808.5 L660 822.5 L663.9 832.7 L666.2 837.5 L669.2 842 L671.4 844.9 L675 848.8 L678 851.2 L682.9 854.4 L688 857.1 L693.3 859.5 L698.8 861.2 L702.4 862.1 L708.1 862.9 L711.8 863.1 L717.1 862.9 L724.3 862.3 L734.9 860.7 L742.6 859.8 L746.4 859.1 L750 858 L753.4 856.3 L763 850 L773.4 844.9 L776.7 843 L781.2 839.8 L784.1 837.5 L786.7 835 L789.2 832 L791.4 828.7 L794.3 823.4 L799.7 812.7 L803 805.4 L806.7 796.2 L810.1 787.2 L812.5 779.8 L814.5 772.6 L817 761.7 L818.2 752.6 L819.2 737.9 L819.1 726.5 L816.8 670 L815.1 636.9 L814.3 617.5 L812.6 561.1 L811.9 525.6 L811.4 509.8 L810.2 492.2 L806.6 461.4 L806.1 453.6 L805.9 447.7 L806.1 437.8 L806.7 425.9 L808.3 404.2 L810.3 381.3 L811 371.7 L811.3 361.8 L811.5 332 L812.8 309.7 L813.2 297.6 L814 291.8 L815 288 L816.4 284.7 L820.9 276.7 L822.4 273.3 L823.6 269.8 L825.5 262.6 L828.8 248.1 L831.1 237.2 L833 230 L834.9 224.5 L840 211.7 L845.9 194.9 L850 181.7 L854.2 166.5 L856.7 155 L858.4 143.5 L860.4 124.1 L862 101 L862 90 L682 90"/>
<path d="M594.8 312.1 L600.6 313 L605.1 316.3 L609.2 319.9 L615.6 328 L609.5 332.5 L606.6 334.9 L592.3 349.4 L584.7 356 L578 354 L574.2 347.6 L571.9 342.6 L570.1 337.4 L569.3 333.8 L568.9 331.1"/>
<path d="M280 685 L282.7 675.8 L285.2 668.5 L287.5 663.2 L291.3 656.3 L296.7 648 L303.5 638.7 L308.6 633 L314.2 628.1 L320.3 623.7 L326.7 620 L333.7 616.9 L341.1 614.4 L348.5 612.6 L355.7 611.5 L363.1 611 L372.2 611.2 L377.7 611.8 L381.3 612.5 L384.8 613.6 L390 615.9 L406.8 625.5 L415.1 630.6 L424.2 637.1 L431.4 642.9 L435.3 646.9 L443 655 L451.8 663.7 L455.2 667.7 L459.1 673.5 L461.8 678.4 L466 687 L465.5 698.1 L464.6 703.5 L463.1 709 L455.7 730.8 L450 745.3 L435.4 779.7 L427.5 796.9 L424.9 801.8 L423 805 L419.8 809.9 L416.5 814.6 L412.7 819.1 L408.5 822.9 L403.6 826.1 L395 831 L386.4 828.1 L381.3 825.9 L376.2 823.1 L368 818 L362.9 826.5 L360 831.7 L357.5 837.1 L353.8 846.2 L348.3 858.2 L344.9 864.8 L340.9 871.1 L333 881.7 L320 888 L316.6 886.1 L313.6 883.8 L312.3 882.5 L310.1 879.6 L297.6 860.3 L294.7 855.2 L292.2 850 L290.1 844.6 L288.3 839.1 L283.4 822.4 L280.8 813 L275.1 789 L273.6 781.7 L272.4 774.1"/>
<path d="M271.3 739.9 L272.6 725.3 L274.4 711.8 L277.2 696.4 L280 685"/>
<path d="M692 90 L691.8 112.8 L691.3 130.6 L689.8 160.2 L688.2 179 L687.4 184.3 L686.4 187.8 L685 191.3 L681.4 199.1"/>
<path d="M651.1 237.4 L649.9 260.6 L648.9 273.8 L648.8 281.4 L649.3 286.9 L650.2 290.6 L651.3 294.4 L653.4 300 L657.5 308.8 L661.4 315.4 L665.8 321.4 L670.7 326.8 L676.4 331.7 L681.3 334.8 L684.8 336.2 L692.4 337.8 L698 333.7 L702.6 322.1 L704.2 316.9 L705.6 311.3 L709 294.4 L709.5 290.6 L709.7 284.9 L709 277.4 L706.3 262.3 L701 240 L699.9 232.4 L699.7 226.7 L700 223 L700.7 219.3 L701.7 215.6 L703 212 L704.5 208.4 L706.4 204.9 L710.7 198.2 L714.2 193.4 L718.1 188.8 L720.8 185.9 L723.8 183.2 L727 181 L728.7 180.1 L732.4 178.6 L740 176 L753 177.7 L763.5 177.8 L767 178 L770.7 178.7 L780 181 L785.6 187.5 L788 190 L790.9 192.4 L797 197 L807 199 L817 192 L825 174.9 L829.4 164.3 L834.1 151.4 L838.6 136.6 L841.3 125.7 L842.6 118.2 L844 101 L844 90 L692 90"/>
<path d="M634.8 686.9 L640.4 666.8 L644.3 655.7 L647.3 648.3 L649.8 643 L653.4 636.6 L657.3 630.3 L662.5 622.6 L669.6 612.9 L680.7 598.9 L684.6 594.5 L687.5 591.8 L692.2 588.4 L697.2 585.4 L699 584.6 L702.6 583.5 L708.1 582.7 L711.7 582.7 L720 584 L723.7 583.9 L731.1 583 L735 583.1 L740.9 583.7 L744.8 584.5 L746.7 585 L750.1 586.3 L760 591.7 L773 598 L778.1 609.8 L780.6 616.9 L782 622.6 L785.4 639.8 L795.5 679.1 L797 686.9 L798.1 696.6 L798.8 708.3 L799 721.9 L798.9 731.5 L798.4 741.2 L797.3 750.8 L795.6 760.5 L793.5 770.1 L789.9 783.6 L787.4 791.2 L784.4 798.3 L781 805.2 L777 811.7 L772.1 818 L769.4 821 L766.5 823.8 L763.5 826.1 L760.3 828.1 L753.5 831.5 L744.8 834.9 L739.6 836.6 L734.1 838 L726.4 839.5 L718.9 840.3 L702.4 840.9 L700.6 840.8 L697.1 840.2 L692.1 838.6 L689 837.1 L685.9 835.2 L681.5 831.6 L678.8 828.9 L676.3 826 L673 821.3 L668.1 812.8 L663.8 803.8 L660 795.2"/>
<path d="M651.7 762.4 L649.5 752.7 L642.4 725.7 L638.7 710.7 L636.9 701.4 L634.8 686.9"/>
<path d="M320 675 L305 690 L304.8 690.9"/>
<path d="M292.5 721.3 L290.4 726.5 L289 732 L287.8 737.5 L286.5 746.9 L285.9 756.2 L285.7 775 L295.6 790 L304.6 804.8 L310.7 814 L313 816.7 L314.3 817.8 L320 821.7 L333 817.7 L340 808 L343.8 775.5 L345 768 L348 756.7 L351.7 754 L360 761.7 L367.3 767.5 L371.3 771.3 L374.6 775.7 L381.9 786.5 L385.4 790.9 L391.7 798 L396.7 797.7 L410 788 L419.1 769.6 L421.9 764.7 L429.1 753.4 L432.6 746.4 L436.4 737.3 L442.7 721 L447 708.6 L448.9 701.4 L451.7 686.7 L443.6 676.1 L436.2 667.4 L429.5 660.6 L422.3 654.4 L416.2 650 L408.3 645.4 L401.7 642.4 L396.3 640.5 L386.7 638 L376.7 640 L363 651.7 L352.8 662.7 L350 665 L345.2 668 L340.1 670.5 L336.6 671.9 L333 673 L329.4 673.8 L320 675"/>
<path d="M703 90 L703 101 L704.9 125.8 L705.5 129.4 L706.4 132.9 L707 134.6 L708.8 138 L713 144.5 L721.8 150.4 L732 152.2 L735.7 152.6 L740.6 152.8"/>
<path d="M773.6 155.4 L779.3 153.8 L786.7 151 L791.7 148.9 L800 145 L806.9 136.3 L810 131.7 L812.6 126.3 L821.7 101 L821.7 90 L703 90"/>
<path d="M648.2 686.9 L648.6 683.1 L649.4 679.3 L650.4 675.5 L652.7 668 L654.5 662.7 L656.6 657.5 L660.5 649.1 L665.3 640.9 L670.7 633 L677.9 623.8 L683.3 618 L689.3 612.9 L694.2 609.4 L697.6 607.5 L699.4 606.7 L704.6 605.2 L708.2 604.6 L711.9 604.5 L717.7 604.9 L721.5 605.7 L725 606.9 L730.1 609.3 L736.4 613.5 L739.3 615.8 L742 618.2 L747 623.8 L752.5 631.2 L757.8 639.5 L761.4 646.4 L764.4 653.7 L766.8 661.2 L769.6 672.7 L771.1 682.2 L772.6 697.6 L773.3 711 L773.1 724.4 L772.4 734.1 L771.2 741.7 L769 752.3"/>
<path d="M751.8 780.9 L747.7 786 L740.2 796.9 L732.5 807.4 L730 810 L727.4 812.3 L723.1 815.3 L720 816.9 L716.8 818.2 L711.7 819.7 L706.5 820.5 L703 820.7 L701.2 820.6 L697.7 819.9 L695.9 819.4 L692.5 818 L689.4 816.1 L686.4 813.8 L682.5 810 L680.3 807.2 L678.2 804.2 L672.4 795 L670.7 791.7 L669.4 788.2 L668.5 784.5 L667 775 L664.2 761.9 L662.8 756.5 L655.6 731.3 L652.1 716.3 L650.6 708.8 L648.6 695.9 L648.2 690.5 L648.2 686.9"/>
<path d="M406.7 672.4 L411.8 674.3 L415.1 675.8 L418.4 677.7 L421.5 680.1 L429 686.7 L428.4 704.1 L427.8 709.9 L426.7 717.5 L425.5 723.2 L424.5 726.9 L422.6 732.5 L421.1 736.2 L417.7 743.3 L415.7 746.5 L413.6 749.5 L406.7 758 L390 765 L381.9 753.1 L377.3 745 L371.7 733 L366.7 720 L371.7 701.7 L376.7 685 L377.9 684"/>
<path d="M718 90 L718 101 L722.5 107.1 L725 110 L728.8 113.5 L735 118.1"/>
<path d="M767.7 123.7 L775 120 L790 101 L790 90 L718 90"/>
<path d="M660 686.9 L660.3 675.6 L661.2 666.2 L662.3 660.7 L663.6 655.1 L664.7 651.5 L666.4 647.1"/>
<path d="M692 626 L697.5 624.1 L708.8 620.8 L723.3 623 L733.3 630.8 L735.8 633.3 L738.3 636.3 L741.6 641.3 L745.4 648.2 L748.6 655 L751.2 661.8 L753.5 668.8 L755.5 676.2 L757.1 683.7 L758.2 691.4 L758.8 699.1 L759 707 L758.8 714.8 L758.3 724.5 L757.7 730.3 L756.8 736 L755.6 741.7 L754.5 745.3 L752.6 750.7 L750.4 756 L742.8 771.5 L741 774.8 L739 778 L736.7 781 L733.9 783.7 L726.2 790 L720 795.6 L715.8 798.4 L711.2 800.6 L707.6 802.1 L703.8 803 L701.9 803.1 L696.2 802.5 L690.1 798.6 L687.4 796.2 L685 793.2 L683.9 791.6 L683 790 L681.8 786.8 L680 778 L677.9 768.7 L673.5 751 L671.3 744 L666.8 731.8 L664.7 724.4 L662.6 714.8 L661.1 705.5 L660.3 696.2 L660 686.9"/>
<path d="M671.2 686.9 L670.6 672 L670.3 659 L671.9 657.8"/>
<path d="M709.5 636.7 L716 638.5 L721.5 643.1 L724 645.6 L726.4 648.6 L728.6 651.9 L731.5 657 L733.1 660.1 L735.2 665 L738.1 673.5 L740.7 684.4 L742.7 693.6 L744 701.2 L745.3 712.5 L745.5 720.1 L745.1 727.8 L744.6 731.7 L743.6 737.5 L741.7 745 L739.8 750.6 L738.4 754.4 L735.9 759.8 L734 763.3 L732 766.5 L729.9 769.5 L723 778 L713 783 L706.5 781.5 L705 781 L701.9 779.4 L698.9 777.5 L696.2 775.2 L693.8 772.7 L692.8 771.3 L690.9 768.3 L686.6 760.3 L682.3 751.5 L680.1 746.1 L678.1 740.6 L675.3 731.1 L673.2 721.4 L672 713.7 L671.5 706.1 L671.2 686.9"/>
<path d="M682.7 687.5 L682.4 673.9 L682.9 661.5"/>
<path d="M719.7 662.2 L722.7 664.2 L724 665.3 L725.1 666.5 L727.2 669.2 L731.3 676.8 L733.8 683.3 L735.2 688.7 L736.2 696.2 L737.1 709 L737.2 714.4 L737 718 L736.6 721.7 L735.7 727.2 L734.5 732.6 L733 738 L730.4 744.9 L725 756.7 L713 766.7 L704.9 759 L702.5 756.2 L700.2 753.1 L698.1 749.8 L695.3 744.6 L692 737.5 L689.2 730.7 L686.2 722 L684.8 716.7 L684.1 712.9 L683.6 709 L683.1 703.2 L682.7 687.5"/>
<path d="M694.6 693.8 L693.8 720.8 L699.2 730.9 L701.3 734 L702.5 735.4 L705.3 738 L713 743.8 L720.2 739.6 L726.4 725.8 L728.1 720.5 L728.8 716.9 L729.2 711.3 L729 705.6 L728.5 700 L727.5 694.5 L725.4 685.4 L720.7 680.7"/>
<path d="M136 615 V632 M136.8 649 L137 697 M137 737 V741 M137 755 L136 783 M994 101 L995.3 136.7 M995 636.7 V656"/>
</g>
<defs><clipPath id="ca"><rect x="131.5" y="101.0" width="867.2" height="807.8"/></clipPath></defs>
<g font-size="22" fill="#000" text-anchor="middle" clip-path="url(#ca)">
<text x="498" y="175">-60</text>
<text x="492.5" y="188">-55</text>
<text x="492" y="213">-50</text>
<text x="487" y="235">-45</text>
<text x="492" y="261">-40</text>
<text x="487" y="288">-35</text>
<text x="470" y="323">-30</text>
<text x="459.5" y="365">-25</text>
<text x="402" y="335">-20</text>
<text x="324" y="192">-15</text>
<text x="271" y="372">-5</text>
<text x="607" y="174">-10</text>
<text x="499" y="460" transform="rotate(-80 499 452)">-30</text>
<text x="600" y="814" transform="rotate(-65 600 806)">-5</text>
<text x="937.5" y="772" transform="rotate(75 937.5 764)">-5</text>
<text x="471.5" y="900" transform="rotate(80 471.5 892)">-5</text>
<text x="623" y="245" transform="rotate(15 623 237)">0</text>
<text x="638" y="185">5</text>
<text x="665" y="211">15</text>
<text x="751" y="132">25</text>
<text x="757" y="163">20</text>
<text x="762" y="234">10</text>
<text x="898.5" y="226">0</text>
<text x="579" y="326">10</text>
<text x="432.7" y="600" transform="rotate(35 432.7 592)">0</text>
<text x="137" y="649" transform="rotate(90 137 641)">0</text>
<text x="137" y="756" transform="rotate(90 137 748)">0</text>
<text x="145.7" y="851.3" transform="rotate(100 145.7 843.3)">0</text>
<text x="227.7" y="810.7" transform="rotate(100 227.7 802.7)">0</text>
<text x="507" y="851" transform="rotate(90 507 843)">0</text>
<text x="390" y="680" transform="rotate(20 390 672)">20</text>
<text x="301" y="715" transform="rotate(60 301 707)">15</text>
<text x="270.7" y="765" transform="rotate(-90 270.7 757)">10</text>
<text x="448" y="813" transform="rotate(70 448 805)">5</text>
<text x="679.5" y="645" transform="rotate(37 679.5 637)">25</text>
<text x="694" y="651.2" transform="rotate(35 694 643.2)">30</text>
<text x="703.3" y="667.5" transform="rotate(15 703.3 659.5)">35</text>
<text x="704" y="688" transform="rotate(20 704 680)">40</text>
<text x="654.4" y="786.8" transform="rotate(-80 654.4 778.8)">15</text>
<text x="763" y="775.7" transform="rotate(60 763 767.7)">20</text>
</g>
<rect x="131.5" y="101.0" width="867.2" height="807.8" fill="none" stroke="#000" stroke-width="1.2"/>
<g stroke="#000" stroke-width="1.2" fill="none">
<path d="M131.5 908.8 v5"/>
<path d="M276 908.8 v5"/>
<path d="M420.6 908.8 v5"/>
<path d="M565.1 908.8 v5"/>
<path d="M709.6 908.8 v5"/>
<path d="M854.2 908.8 v5"/>
<path d="M998.7 908.8 v5"/>
<path d="M131.5 101 h-5.5"/>
<path d="M131.5 370.3 h-5.5"/>
<path d="M131.5 639.5 h-5.5"/>
<path d="M131.5 908.8 h-5.5"/>
</g>
<g stroke="#000" stroke-width="0.9" fill="none">
<path d="M131.5 182.1 h-3"/>
<path d="M131.5 229.5 h-3"/>
<path d="M131.5 263.1 h-3"/>
<path d="M131.5 289.2 h-3"/>
<path d="M131.5 310.5 h-3"/>
<path d="M131.5 328.6 h-3"/>
<path d="M131.5 344.2 h-3"/>
<path d="M131.5 357.9 h-3"/>
<path d="M131.5 451.3 h-3"/>
<path d="M131.5 498.7 h-3"/>
<path d="M131.5 532.4 h-3"/>
<path d="M131.5 558.5 h-3"/>
<path d="M131.5 579.8 h-3"/>
<path d="M131.5 597.8 h-3"/>
<path d="M131.5 613.4 h-3"/>
<path d="M131.5 627.2 h-3"/>
<path d="M131.5 720.6 h-3"/>
<path d="M131.5 768 h-3"/>
<path d="M131.5 801.6 h-3"/>
<path d="M131.5 827.7 h-3"/>
<path d="M131.5 849.1 h-3"/>
<path d="M131.5 867.1 h-3"/>
<path d="M131.5 882.7 h-3"/>
<path d="M131.5 896.5 h-3"/>
</g>
<text transform="translate(131.5 942.5) scale(1.047 1)" font-size="28" text-anchor="middle">90S</text>
<text transform="translate(276 942.5) scale(1.047 1)" font-size="28" text-anchor="middle">60S</text>
<text transform="translate(420.6 942.5) scale(1.047 1)" font-size="28" text-anchor="middle">30S</text>
<text transform="translate(565.1 942.5) scale(1.047 1)" font-size="28" text-anchor="middle">EQ</text>
<text transform="translate(709.6 942.5) scale(1.047 1)" font-size="28" text-anchor="middle">30N</text>
<text transform="translate(854.2 942.5) scale(1.047 1)" font-size="28" text-anchor="middle">60N</text>
<text transform="translate(998.7 942.5) scale(1.047 1)" font-size="28" text-anchor="middle">90N</text>
<text transform="translate(120 112.5) scale(1.047 1)" font-size="28" text-anchor="end">1</text>
<text transform="translate(120 381.8) scale(1.047 1)" font-size="28" text-anchor="end">10</text>
<text transform="translate(120 651) scale(1.047 1)" font-size="28" text-anchor="end">100</text>
<text transform="translate(120 920.3) scale(1.047 1)" font-size="28" text-anchor="end">1000</text>
<text transform="translate(34.5 507.3) rotate(-90) scale(1.047 1)" font-size="28" text-anchor="middle">Pressure [hPa]</text>
<text transform="translate(586 38.5) scale(1.061 1)" font-size="32.2" text-anchor="middle">ECMWF Zonal Mean Zonal Wind</text>
<text transform="translate(288.3 91.5) scale(1.04 1)" font-size="28" text-anchor="start">168h</text>
<text transform="translate(376.3 91.5) scale(1.03 1)" font-size="31.5" text-anchor="start">Forecast:</text>
<text transform="translate(542.8 91.5) scale(1.044 1)" font-size="28" text-anchor="start" xml:space="preserve">15 Jan 2024  12UTC</text>
<g stroke="none">
<rect x="1053.5" y="474.3" width="36.5" height="31.1" fill="#ffe7cd"/>
<rect x="1053.5" y="504.9" width="36.5" height="31.1" fill="#e5f3fb"/>
<rect x="1053.5" y="443.7" width="36.5" height="31.1" fill="#ffd7bc"/>
<rect x="1053.5" y="535.5" width="36.5" height="31.1" fill="#d2dff3"/>
<rect x="1053.5" y="413.1" width="36.5" height="31.1" fill="#ffc6ab"/>
<rect x="1053.5" y="566.1" width="36.5" height="31.1" fill="#bfcaec"/>
<rect x="1053.5" y="382.5" width="36.5" height="31.1" fill="#ffb69a"/>
<rect x="1053.5" y="596.7" width="36.5" height="31.1" fill="#acb6e4"/>
<rect x="1053.5" y="351.9" width="36.5" height="31.1" fill="#ffa689"/>
<rect x="1053.5" y="627.3" width="36.5" height="31.1" fill="#99a2dd"/>
<rect x="1053.5" y="321.3" width="36.5" height="31.1" fill="#ff9678"/>
<rect x="1053.5" y="657.9" width="36.5" height="31.1" fill="#868ed5"/>
<rect x="1053.5" y="290.7" width="36.5" height="31.1" fill="#ff8666"/>
<rect x="1053.5" y="688.5" width="36.5" height="31.1" fill="#727ace"/>
<rect x="1053.5" y="260.1" width="36.5" height="31.1" fill="#ff7555"/>
<rect x="1053.5" y="719.1" width="36.5" height="31.1" fill="#5f65c6"/>
<rect x="1053.5" y="229.5" width="36.5" height="31.1" fill="#ff6544"/>
<rect x="1053.5" y="749.7" width="36.5" height="31.1" fill="#4c51be"/>
<rect x="1053.5" y="198.9" width="36.5" height="31.1" fill="#ff5533"/>
<rect x="1053.5" y="780.3" width="36.5" height="31.1" fill="#393db7"/>
<rect x="1053.5" y="168.3" width="36.5" height="31.1" fill="#ff4422"/>
<rect x="1053.5" y="810.9" width="36.5" height="31.1" fill="#2628af"/>
<rect x="1053.5" y="137.7" width="36.5" height="31.1" fill="#ff3411"/>
<rect x="1053.5" y="841.5" width="36.5" height="31.1" fill="#1314a8"/>
<path d="M1053.5 138.2 L1071.8 101.0 L1090.0 138.2 Z" fill="#ff2400"/>
<path d="M1053.5 871.6 L1071.8 908.8 L1090.0 871.6 Z" fill="#0000a0"/>
</g>
<path d="M1053.5 137.7 L1071.8 101.0 L1090.0 137.7 V872.1 L1071.8 908.8 L1053.5 872.1 Z" fill="none" stroke="#000" stroke-width="1.2" stroke-linejoin="miter"/>
<g stroke="#000" stroke-width="1.2">
<path d="M1090.0 872.1 h5.2"/>
<path d="M1090.0 780.3 h5.2"/>
<path d="M1090.0 688.5 h5.2"/>
<path d="M1090.0 596.7 h5.2"/>
<path d="M1090.0 504.9 h5.2"/>
<path d="M1090.0 413.1 h5.2"/>
<path d="M1090.0 321.3 h5.2"/>
<path d="M1090.0 229.5 h5.2"/>
<path d="M1090.0 137.7 h5.2"/>
</g>
<text transform="translate(1102 883.3) scale(1.047 1)" font-size="28" text-anchor="start">−60</text>
<text transform="translate(1102 791.5) scale(1.047 1)" font-size="28" text-anchor="start">−45</text>
<text transform="translate(1102 699.7) scale(1.047 1)" font-size="28" text-anchor="start">−30</text>
<text transform="translate(1102 607.9) scale(1.047 1)" font-size="28" text-anchor="start">−15</text>
<text transform="translate(1102 516.1) scale(1.047 1)" font-size="28" text-anchor="start">0</text>
<text transform="translate(1102 424.3) scale(1.047 1)" font-size="28" text-anchor="start">15</text>
<text transform="translate(1102 332.5) scale(1.047 1)" font-size="28" text-anchor="start">30</text>
<text transform="translate(1102 240.7) scale(1.047 1)" font-size="28" text-anchor="start">45</text>
<text transform="translate(1102 148.9) scale(1.047 1)" font-size="28" text-anchor="start">60</text>
<text transform="translate(1201.5 504.5) rotate(-90) scale(1.047 1)" font-size="28" text-anchor="middle">Zonal Wind [m/s]</text>
</svg>
</body></html>
